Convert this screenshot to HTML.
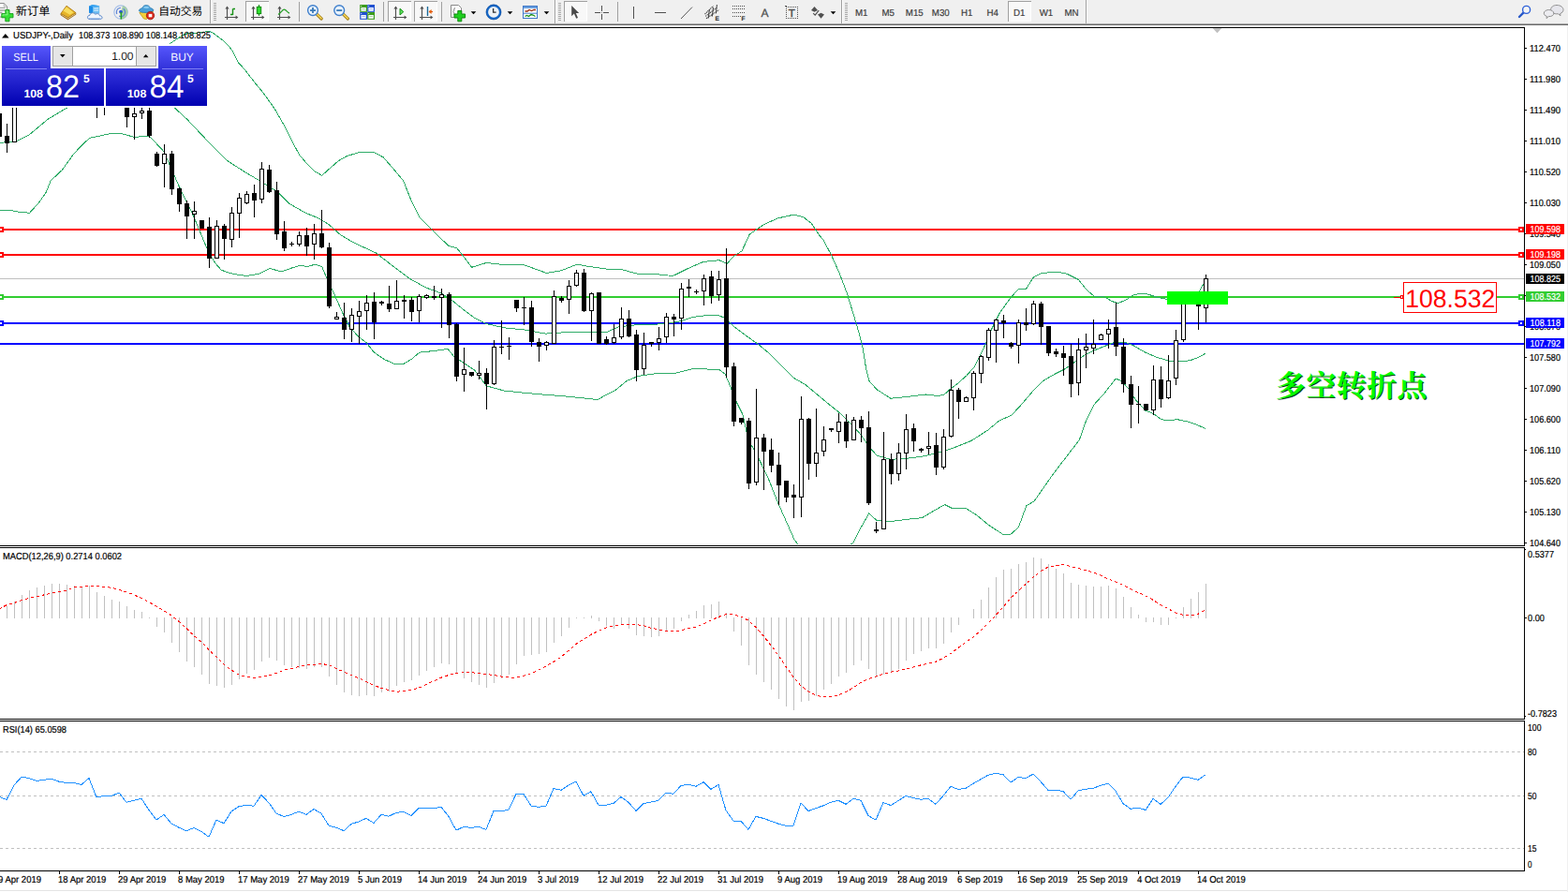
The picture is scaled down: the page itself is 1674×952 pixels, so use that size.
<!DOCTYPE html>
<html><head><meta charset="utf-8"><title>USDJPY Daily</title>
<style>html,body{margin:0;padding:0;background:#fff;}body{width:1674px;height:952px;overflow:hidden;position:relative;font-family:"Liberation Sans", sans-serif;}</style></head>
<body>
<svg width="1674" height="952" viewBox="0 0 1674 952" style="position:absolute;left:0;top:0" shape-rendering="crispEdges" text-rendering="geometricPrecision" font-family='"Liberation Sans", sans-serif'>
<rect x="0" y="0" width="1674" height="952" fill="#fff"/>
<defs><clipPath id="cm"><rect x="0" y="30" width="1627" height="552"/></clipPath><clipPath id="cmacd"><rect x="0" y="585" width="1627" height="182"/></clipPath><clipPath id="crsi"><rect x="0" y="770" width="1627" height="159"/></clipPath><linearGradient id="gbtn" x1="0" y1="0" x2="0" y2="1"><stop offset="0" stop-color="#5656fc"/><stop offset="0.36" stop-color="#3434dc"/><stop offset="0.62" stop-color="#2020cc"/><stop offset="1" stop-color="#0000b0"/></linearGradient></defs>
<g clip-path="url(#cm)">
<rect x="0" y="244" width="1627" height="2" fill="#ff0000"/>
<rect x="0" y="271" width="1627" height="2" fill="#ff0000"/>
<rect x="0" y="297" width="1627" height="1" fill="#c0c0c0"/>
<rect x="0" y="316" width="1627" height="2" fill="#32cd32"/>
<rect x="0" y="344" width="1627" height="2" fill="#0000ff"/>
<rect x="0" y="366" width="1627" height="2" fill="#0000ff"/>
<polyline points="170.0,54.0 181.1,46.8 187.2,42.7 192.3,39.5 198.0,36.2 205.9,35.2 215.9,34.8 221.6,33.4 224.5,33.7 228.8,36.2 236.7,42.0 243.2,48.1 248.2,54.2 251.0,60.3 254.6,67.1 260.4,73.2 265.4,79.6 271.8,88.0 280.7,98.6 293.3,116.2 303.4,133.9 310.9,149.0 319.7,165.4 327.3,174.2 336.1,183.0 343.7,187.3 351.2,180.5 361.3,171.7 370.2,166.6 384.0,162.4 399.1,162.4 409.2,167.9 419.3,179.3 430.7,193.1 438.2,212.0 448.3,232.2 459.6,243.5 471.0,254.9 479.3,262.6 487.7,264.7 496.1,275.2 503.5,285.3 519.2,280.5 538.1,282.6 559.1,282.6 583.3,291.4 599.1,288.9 615.9,282.1 626.4,284.0 649.5,287.4 662.7,287.4 679.5,292.0 700.5,292.7 718.4,294.5 736.3,285.7 751.0,279.4 767.8,277.7 776.2,281.5 782.5,274.2 792.0,267.9 800.3,250.0 815.0,240.0 830.0,233.0 848.0,229.0 858.0,232.0 866.0,238.0 873.9,250.0 879.1,256.3 887.5,272.1 895.9,291.0 904.3,313.0 910.7,334.0 917.0,355.0 921.2,371.9 924.5,392.6 927.7,406.3 936.1,415.7 950.8,425.2 967.6,423.5 988.6,421.0 1000.0,422.3 1007.4,421.7 1014.7,415.0 1023.1,408.7 1031.5,401.3 1039.9,391.9 1050.4,370.9 1058.8,350.9 1067.2,334.1 1077.7,319.4 1087.2,308.5 1095.6,308.2 1103.0,296.3 1111.4,291.6 1128.2,290.0 1138.7,292.1 1151.3,298.4 1159.7,308.9 1168.1,316.2 1178.6,316.6 1187.0,321.5 1193.3,323.6 1201.7,320.4 1210.1,314.8 1218.5,313.1 1225.9,314.1 1235.3,317.3 1245.8,319.4 1262.0,320.0 1275.0,317.0 1280.5,311.2 1283.7,304.7 1287.0,301.5" fill="none" stroke="#2fac68" stroke-width="1"/>
<polyline points="0.0,152.2 16.0,151.5 31.0,144.0 51.5,127.0 72.0,114.7 130.0,100.0 186.0,114.7 200.0,127.6 220.2,149.0 242.9,171.7 260.5,183.0 275.6,191.9 295.8,204.5 308.4,217.1 326.0,227.1 341.2,233.4 351.2,239.7 362.7,250.0 376.3,258.4 401.5,270.0 416.3,281.5 437.3,297.3 454.1,306.7 470.9,313.0 482.4,320.4 494.0,329.8 506.6,339.3 519.2,345.6 538.1,349.8 559.1,351.9 582.3,356.1 597.0,355.1 622.2,354.0 639.0,355.1 648.0,354.4 660.6,348.8 679.5,346.7 698.4,346.2 711.0,345.6 727.8,342.5 740.5,338.3 757.3,336.2 765.7,336.2 774.1,339.3 782.5,347.7 795.1,357.2 809.8,367.7 822.4,378.2 835.0,390.8 847.6,403.4 860.2,410.8 872.8,421.3 885.4,431.8 895.9,440.2 906.7,450.4 919.3,464.1 927.7,476.7 936.1,486.1 950.8,490.3 967.6,489.3 984.4,487.2 999.1,484.0 1016.0,478.8 1037.0,470.4 1054.6,459.1 1067.2,448.6 1079.8,443.4 1090.4,431.8 1103.0,417.1 1113.5,406.6 1126.1,399.2 1136.6,394.0 1147.1,386.6 1157.6,379.3 1168.1,374.0 1178.6,369.8 1189.1,365.6 1201.7,365.6 1210.1,368.8 1222.7,376.1 1235.3,381.4 1247.9,385.2 1260.6,386.0 1271.1,384.5 1279.5,381.4 1287.0,377.2" fill="none" stroke="#2fac68" stroke-width="1"/>
<polyline points="0.0,224.2 11.8,224.6 20.5,226.2 31.5,227.3 41.0,217.0 48.8,206.0 54.3,192.7 66.1,181.7 78.7,164.3 88.2,154.1 95.6,147.4 117.6,142.6 129.4,142.6 143.4,146.3 159.6,145.3 175.0,161.8 191.0,198.5 206.0,229.4 223.0,270.0 230.0,281.0 236.0,288.0 245.0,291.5 255.0,293.5 263.4,294.4 276.0,292.4 283.0,289.0 288.5,286.4 295.0,288.5 301.0,289.9 310.0,286.5 321.0,283.0 328.0,284.7 336.4,282.1 343.8,284.7 349.0,297.3 357.4,315.1 365.8,334.0 373.2,348.8 382.6,359.3 391.0,365.6 399.4,376.1 410.0,383.4 420.5,388.1 431.0,388.3 439.4,383.4 447.8,376.1 462.5,374.6 478.2,372.5 484.5,380.3 494.0,386.6 506.6,395.0 519.2,411.8 538.1,417.0 559.1,419.2 582.3,421.3 601.2,422.7 622.2,424.8 638.0,426.5 649.5,420.2 656.4,417.0 669.0,406.5 681.6,401.3 700.5,398.6 721.5,398.1 740.5,393.5 753.1,393.9 767.8,394.6 774.1,399.2 780.4,413.9 785.9,428.3 793.2,443.0 798.5,468.3 810.0,489.3 820.5,511.3 831.0,537.6 839.4,556.5 847.8,575.4 852.0,581.0" fill="none" stroke="#2fac68" stroke-width="1"/>
<polyline points="908.0,581.0 910.9,579.6 919.3,562.8 927.7,548.1 936.1,555.5 950.8,556.5 967.6,554.4 984.4,552.7 999.1,543.9 1008.6,538.6 1016.0,542.2 1030.7,542.2 1043.3,550.2 1055.9,560.7 1070.6,570.2 1079.0,570.2 1087.4,562.8 1095.8,539.7 1104.0,535.1 1125.0,505.0 1152.3,469.6 1159.7,448.6 1168.1,431.8 1178.6,420.2 1191.2,404.1 1197.5,406.6 1204.9,415.0 1212.2,426.5 1222.7,438.1 1231.1,441.3 1239.5,447.6 1247.9,449.0 1256.4,447.6 1266.9,449.7 1277.4,453.2 1287.0,457.4" fill="none" stroke="#2fac68" stroke-width="1"/>
<g id="candles">
<rect x="-1" y="121" width="1" height="25" fill="#000"/>
<rect x="-3" y="121" width="5" height="25" fill="#000"/>
<rect x="7" y="132" width="1" height="31" fill="#000"/>
<rect x="5" y="145" width="5" height="8" fill="#000"/>
<rect x="15" y="100" width="1" height="52" fill="#000"/>
<rect x="13" y="100" width="5" height="52" fill="#000"/>
<rect x="14" y="101" width="3" height="50" fill="#fff"/>
<rect x="103" y="100" width="1" height="26" fill="#000"/>
<rect x="111" y="100" width="1" height="23" fill="#000"/>
<rect x="135" y="100" width="1" height="36" fill="#000"/>
<rect x="133" y="100" width="5" height="25" fill="#000"/>
<rect x="143" y="100" width="1" height="49" fill="#000"/>
<rect x="141" y="121" width="5" height="4" fill="#000"/>
<rect x="142" y="122" width="3" height="2" fill="#fff"/>
<rect x="151" y="100" width="1" height="27" fill="#000"/>
<rect x="149" y="118" width="5" height="3" fill="#000"/>
<rect x="150" y="119" width="3" height="1" fill="#fff"/>
<rect x="159" y="100" width="1" height="47" fill="#000"/>
<rect x="157" y="118" width="5" height="27" fill="#000"/>
<rect x="167" y="162" width="1" height="16" fill="#000"/>
<rect x="165" y="164" width="5" height="13" fill="#000"/>
<rect x="175" y="154" width="1" height="46" fill="#000"/>
<rect x="173" y="164" width="5" height="11" fill="#000"/>
<rect x="174" y="165" width="3" height="9" fill="#fff"/>
<rect x="183" y="161" width="1" height="47" fill="#000"/>
<rect x="181" y="164" width="5" height="38" fill="#000"/>
<rect x="191" y="200" width="1" height="26" fill="#000"/>
<rect x="189" y="201" width="5" height="17" fill="#000"/>
<rect x="199" y="214" width="1" height="41" fill="#000"/>
<rect x="197" y="217" width="5" height="14" fill="#000"/>
<rect x="207" y="215" width="1" height="40" fill="#000"/>
<rect x="205" y="225" width="5" height="4" fill="#000"/>
<rect x="206" y="226" width="3" height="2" fill="#fff"/>
<rect x="215" y="235" width="1" height="9" fill="#000"/>
<rect x="213" y="235" width="5" height="9" fill="#000"/>
<rect x="223" y="232" width="1" height="54" fill="#000"/>
<rect x="221" y="242" width="5" height="34" fill="#000"/>
<rect x="231" y="235" width="1" height="41" fill="#000"/>
<rect x="229" y="241" width="5" height="35" fill="#000"/>
<rect x="230" y="242" width="3" height="33" fill="#fff"/>
<rect x="239" y="239" width="1" height="38" fill="#000"/>
<rect x="237" y="241" width="5" height="14" fill="#000"/>
<rect x="247" y="221" width="1" height="43" fill="#000"/>
<rect x="245" y="227" width="5" height="29" fill="#000"/>
<rect x="246" y="228" width="3" height="27" fill="#fff"/>
<rect x="255" y="206" width="1" height="48" fill="#000"/>
<rect x="253" y="211" width="5" height="17" fill="#000"/>
<rect x="254" y="212" width="3" height="15" fill="#fff"/>
<rect x="263" y="204" width="1" height="14" fill="#000"/>
<rect x="261" y="207" width="5" height="10" fill="#000"/>
<rect x="262" y="208" width="3" height="8" fill="#fff"/>
<rect x="271" y="197" width="1" height="35" fill="#000"/>
<rect x="269" y="206" width="5" height="8" fill="#000"/>
<rect x="279" y="173" width="1" height="44" fill="#000"/>
<rect x="277" y="180" width="5" height="33" fill="#000"/>
<rect x="278" y="181" width="3" height="31" fill="#fff"/>
<rect x="287" y="176" width="1" height="30" fill="#000"/>
<rect x="285" y="181" width="5" height="24" fill="#000"/>
<rect x="295" y="194" width="1" height="62" fill="#000"/>
<rect x="293" y="203" width="5" height="47" fill="#000"/>
<rect x="303" y="236" width="1" height="32" fill="#000"/>
<rect x="301" y="247" width="5" height="18" fill="#000"/>
<rect x="311" y="258" width="1" height="5" fill="#000"/>
<rect x="309" y="260" width="5" height="1" fill="#000"/>
<rect x="319" y="247" width="1" height="16" fill="#000"/>
<rect x="317" y="251" width="5" height="10" fill="#000"/>
<rect x="318" y="252" width="3" height="8" fill="#fff"/>
<rect x="327" y="243" width="1" height="30" fill="#000"/>
<rect x="325" y="251" width="5" height="12" fill="#000"/>
<rect x="335" y="239" width="1" height="38" fill="#000"/>
<rect x="333" y="249" width="5" height="12" fill="#000"/>
<rect x="334" y="250" width="3" height="10" fill="#fff"/>
<rect x="343" y="224" width="1" height="41" fill="#000"/>
<rect x="341" y="249" width="5" height="15" fill="#000"/>
<rect x="351" y="259" width="1" height="70" fill="#000"/>
<rect x="349" y="264" width="5" height="63" fill="#000"/>
<rect x="359" y="333" width="1" height="8" fill="#000"/>
<rect x="357" y="338" width="5" height="3" fill="#000"/>
<rect x="358" y="339" width="3" height="1" fill="#fff"/>
<rect x="367" y="323" width="1" height="39" fill="#000"/>
<rect x="365" y="339" width="5" height="13" fill="#000"/>
<rect x="375" y="329" width="1" height="36" fill="#000"/>
<rect x="373" y="336" width="5" height="16" fill="#000"/>
<rect x="374" y="337" width="3" height="14" fill="#fff"/>
<rect x="383" y="321" width="1" height="46" fill="#000"/>
<rect x="381" y="332" width="5" height="6" fill="#000"/>
<rect x="382" y="333" width="3" height="4" fill="#fff"/>
<rect x="391" y="315" width="1" height="37" fill="#000"/>
<rect x="389" y="323" width="5" height="9" fill="#000"/>
<rect x="390" y="324" width="3" height="7" fill="#fff"/>
<rect x="399" y="312" width="1" height="50" fill="#000"/>
<rect x="397" y="322" width="5" height="22" fill="#000"/>
<rect x="407" y="321" width="1" height="5" fill="#000"/>
<rect x="405" y="322" width="5" height="2" fill="#000"/>
<rect x="415" y="305" width="1" height="28" fill="#000"/>
<rect x="413" y="324" width="5" height="6" fill="#000"/>
<rect x="423" y="299" width="1" height="31" fill="#000"/>
<rect x="421" y="321" width="5" height="9" fill="#000"/>
<rect x="422" y="322" width="3" height="7" fill="#fff"/>
<rect x="431" y="315" width="1" height="25" fill="#000"/>
<rect x="429" y="320" width="5" height="2" fill="#000"/>
<rect x="439" y="317" width="1" height="26" fill="#000"/>
<rect x="437" y="320" width="5" height="13" fill="#000"/>
<rect x="447" y="314" width="1" height="30" fill="#000"/>
<rect x="445" y="316" width="5" height="16" fill="#000"/>
<rect x="446" y="317" width="3" height="14" fill="#fff"/>
<rect x="455" y="314" width="1" height="5" fill="#000"/>
<rect x="453" y="315" width="5" height="3" fill="#000"/>
<rect x="454" y="316" width="3" height="1" fill="#fff"/>
<rect x="463" y="305" width="1" height="15" fill="#000"/>
<rect x="461" y="316" width="5" height="2" fill="#000"/>
<rect x="471" y="308" width="1" height="42" fill="#000"/>
<rect x="469" y="314" width="5" height="4" fill="#000"/>
<rect x="470" y="315" width="3" height="2" fill="#fff"/>
<rect x="479" y="312" width="1" height="49" fill="#000"/>
<rect x="477" y="314" width="5" height="33" fill="#000"/>
<rect x="487" y="345" width="1" height="62" fill="#000"/>
<rect x="485" y="346" width="5" height="56" fill="#000"/>
<rect x="495" y="371" width="1" height="47" fill="#000"/>
<rect x="493" y="394" width="5" height="6" fill="#000"/>
<rect x="494" y="395" width="3" height="4" fill="#fff"/>
<rect x="503" y="397" width="1" height="5" fill="#000"/>
<rect x="501" y="397" width="5" height="4" fill="#000"/>
<rect x="511" y="385" width="1" height="20" fill="#000"/>
<rect x="509" y="398" width="5" height="3" fill="#000"/>
<rect x="510" y="399" width="3" height="1" fill="#fff"/>
<rect x="519" y="393" width="1" height="44" fill="#000"/>
<rect x="517" y="398" width="5" height="12" fill="#000"/>
<rect x="527" y="363" width="1" height="48" fill="#000"/>
<rect x="525" y="370" width="5" height="40" fill="#000"/>
<rect x="526" y="371" width="3" height="38" fill="#fff"/>
<rect x="535" y="342" width="1" height="36" fill="#000"/>
<rect x="533" y="370" width="5" height="1" fill="#000"/>
<rect x="543" y="360" width="1" height="24" fill="#000"/>
<rect x="541" y="369" width="5" height="1" fill="#000"/>
<rect x="551" y="320" width="1" height="13" fill="#000"/>
<rect x="549" y="320" width="5" height="9" fill="#000"/>
<rect x="559" y="317" width="1" height="30" fill="#000"/>
<rect x="557" y="328" width="5" height="1" fill="#000"/>
<rect x="567" y="321" width="1" height="49" fill="#000"/>
<rect x="565" y="328" width="5" height="37" fill="#000"/>
<rect x="575" y="361" width="1" height="25" fill="#000"/>
<rect x="573" y="365" width="5" height="5" fill="#000"/>
<rect x="583" y="364" width="1" height="10" fill="#000"/>
<rect x="581" y="365" width="5" height="4" fill="#000"/>
<rect x="582" y="366" width="3" height="2" fill="#fff"/>
<rect x="591" y="310" width="1" height="57" fill="#000"/>
<rect x="589" y="316" width="5" height="51" fill="#000"/>
<rect x="590" y="317" width="3" height="49" fill="#fff"/>
<rect x="599" y="316" width="1" height="7" fill="#000"/>
<rect x="597" y="318" width="5" height="3" fill="#000"/>
<rect x="607" y="299" width="1" height="36" fill="#000"/>
<rect x="605" y="305" width="5" height="15" fill="#000"/>
<rect x="606" y="306" width="3" height="13" fill="#fff"/>
<rect x="615" y="288" width="1" height="18" fill="#000"/>
<rect x="613" y="291" width="5" height="14" fill="#000"/>
<rect x="614" y="292" width="3" height="12" fill="#fff"/>
<rect x="623" y="287" width="1" height="46" fill="#000"/>
<rect x="621" y="291" width="5" height="41" fill="#000"/>
<rect x="631" y="312" width="1" height="52" fill="#000"/>
<rect x="629" y="313" width="5" height="19" fill="#000"/>
<rect x="630" y="314" width="3" height="17" fill="#fff"/>
<rect x="639" y="312" width="1" height="55" fill="#000"/>
<rect x="637" y="312" width="5" height="55" fill="#000"/>
<rect x="647" y="359" width="1" height="9" fill="#000"/>
<rect x="645" y="362" width="5" height="5" fill="#000"/>
<rect x="655" y="346" width="1" height="21" fill="#000"/>
<rect x="653" y="360" width="5" height="6" fill="#000"/>
<rect x="654" y="361" width="3" height="4" fill="#fff"/>
<rect x="663" y="328" width="1" height="34" fill="#000"/>
<rect x="661" y="340" width="5" height="20" fill="#000"/>
<rect x="662" y="341" width="3" height="18" fill="#fff"/>
<rect x="671" y="331" width="1" height="29" fill="#000"/>
<rect x="669" y="340" width="5" height="19" fill="#000"/>
<rect x="679" y="352" width="1" height="55" fill="#000"/>
<rect x="677" y="357" width="5" height="38" fill="#000"/>
<rect x="687" y="355" width="1" height="45" fill="#000"/>
<rect x="685" y="368" width="5" height="26" fill="#000"/>
<rect x="686" y="369" width="3" height="24" fill="#fff"/>
<rect x="695" y="365" width="1" height="5" fill="#000"/>
<rect x="693" y="365" width="5" height="2" fill="#000"/>
<rect x="703" y="349" width="1" height="25" fill="#000"/>
<rect x="701" y="361" width="5" height="5" fill="#000"/>
<rect x="702" y="362" width="3" height="3" fill="#fff"/>
<rect x="711" y="334" width="1" height="32" fill="#000"/>
<rect x="709" y="338" width="5" height="22" fill="#000"/>
<rect x="710" y="339" width="3" height="20" fill="#fff"/>
<rect x="719" y="335" width="1" height="24" fill="#000"/>
<rect x="717" y="338" width="5" height="3" fill="#000"/>
<rect x="727" y="302" width="1" height="50" fill="#000"/>
<rect x="725" y="308" width="5" height="32" fill="#000"/>
<rect x="726" y="309" width="3" height="30" fill="#fff"/>
<rect x="735" y="298" width="1" height="19" fill="#000"/>
<rect x="733" y="306" width="5" height="2" fill="#000"/>
<rect x="743" y="309" width="1" height="5" fill="#000"/>
<rect x="741" y="311" width="5" height="1" fill="#000"/>
<rect x="751" y="293" width="1" height="33" fill="#000"/>
<rect x="749" y="297" width="5" height="14" fill="#000"/>
<rect x="750" y="298" width="3" height="12" fill="#fff"/>
<rect x="759" y="289" width="1" height="35" fill="#000"/>
<rect x="757" y="295" width="5" height="21" fill="#000"/>
<rect x="767" y="289" width="1" height="32" fill="#000"/>
<rect x="765" y="298" width="5" height="17" fill="#000"/>
<rect x="766" y="299" width="3" height="15" fill="#fff"/>
<rect x="775" y="265" width="1" height="138" fill="#000"/>
<rect x="773" y="297" width="5" height="95" fill="#000"/>
<rect x="783" y="387" width="1" height="68" fill="#000"/>
<rect x="781" y="391" width="5" height="59" fill="#000"/>
<rect x="791" y="446" width="1" height="7" fill="#000"/>
<rect x="789" y="446" width="5" height="5" fill="#000"/>
<rect x="799" y="446" width="1" height="76" fill="#000"/>
<rect x="797" y="449" width="5" height="67" fill="#000"/>
<rect x="807" y="415" width="1" height="103" fill="#000"/>
<rect x="805" y="467" width="5" height="48" fill="#000"/>
<rect x="806" y="468" width="3" height="46" fill="#fff"/>
<rect x="815" y="463" width="1" height="60" fill="#000"/>
<rect x="813" y="467" width="5" height="15" fill="#000"/>
<rect x="823" y="468" width="1" height="36" fill="#000"/>
<rect x="821" y="480" width="5" height="17" fill="#000"/>
<rect x="831" y="483" width="1" height="56" fill="#000"/>
<rect x="829" y="496" width="5" height="22" fill="#000"/>
<rect x="839" y="513" width="1" height="23" fill="#000"/>
<rect x="837" y="513" width="5" height="18" fill="#000"/>
<rect x="847" y="517" width="1" height="36" fill="#000"/>
<rect x="845" y="528" width="5" height="3" fill="#000"/>
<rect x="855" y="423" width="1" height="129" fill="#000"/>
<rect x="853" y="447" width="5" height="84" fill="#000"/>
<rect x="854" y="448" width="3" height="82" fill="#fff"/>
<rect x="863" y="446" width="1" height="66" fill="#000"/>
<rect x="861" y="447" width="5" height="48" fill="#000"/>
<rect x="871" y="436" width="1" height="73" fill="#000"/>
<rect x="869" y="483" width="5" height="12" fill="#000"/>
<rect x="870" y="484" width="3" height="10" fill="#fff"/>
<rect x="879" y="455" width="1" height="32" fill="#000"/>
<rect x="877" y="469" width="5" height="13" fill="#000"/>
<rect x="878" y="470" width="3" height="11" fill="#fff"/>
<rect x="887" y="457" width="1" height="4" fill="#000"/>
<rect x="885" y="457" width="5" height="2" fill="#000"/>
<rect x="895" y="441" width="1" height="32" fill="#000"/>
<rect x="893" y="450" width="5" height="11" fill="#000"/>
<rect x="894" y="451" width="3" height="9" fill="#fff"/>
<rect x="903" y="442" width="1" height="36" fill="#000"/>
<rect x="901" y="450" width="5" height="21" fill="#000"/>
<rect x="911" y="445" width="1" height="25" fill="#000"/>
<rect x="909" y="448" width="5" height="22" fill="#000"/>
<rect x="910" y="449" width="3" height="20" fill="#fff"/>
<rect x="919" y="444" width="1" height="28" fill="#000"/>
<rect x="917" y="448" width="5" height="9" fill="#000"/>
<rect x="927" y="439" width="1" height="100" fill="#000"/>
<rect x="925" y="456" width="5" height="81" fill="#000"/>
<rect x="935" y="557" width="1" height="12" fill="#000"/>
<rect x="933" y="565" width="5" height="2" fill="#000"/>
<rect x="943" y="461" width="1" height="104" fill="#000"/>
<rect x="941" y="490" width="5" height="75" fill="#000"/>
<rect x="942" y="491" width="3" height="73" fill="#fff"/>
<rect x="951" y="484" width="1" height="33" fill="#000"/>
<rect x="949" y="490" width="5" height="16" fill="#000"/>
<rect x="959" y="473" width="1" height="40" fill="#000"/>
<rect x="957" y="483" width="5" height="23" fill="#000"/>
<rect x="958" y="484" width="3" height="21" fill="#fff"/>
<rect x="967" y="442" width="1" height="59" fill="#000"/>
<rect x="965" y="458" width="5" height="26" fill="#000"/>
<rect x="966" y="459" width="3" height="24" fill="#fff"/>
<rect x="975" y="452" width="1" height="30" fill="#000"/>
<rect x="973" y="457" width="5" height="14" fill="#000"/>
<rect x="983" y="478" width="1" height="5" fill="#000"/>
<rect x="981" y="479" width="5" height="2" fill="#000"/>
<rect x="991" y="461" width="1" height="24" fill="#000"/>
<rect x="989" y="476" width="5" height="3" fill="#000"/>
<rect x="990" y="477" width="3" height="1" fill="#fff"/>
<rect x="999" y="462" width="1" height="45" fill="#000"/>
<rect x="997" y="475" width="5" height="24" fill="#000"/>
<rect x="1007" y="458" width="1" height="43" fill="#000"/>
<rect x="1005" y="466" width="5" height="33" fill="#000"/>
<rect x="1006" y="467" width="3" height="31" fill="#fff"/>
<rect x="1015" y="405" width="1" height="62" fill="#000"/>
<rect x="1013" y="416" width="5" height="50" fill="#000"/>
<rect x="1014" y="417" width="3" height="48" fill="#fff"/>
<rect x="1023" y="414" width="1" height="33" fill="#000"/>
<rect x="1021" y="416" width="5" height="13" fill="#000"/>
<rect x="1031" y="423" width="1" height="6" fill="#000"/>
<rect x="1029" y="424" width="5" height="5" fill="#000"/>
<rect x="1030" y="425" width="3" height="3" fill="#fff"/>
<rect x="1039" y="396" width="1" height="42" fill="#000"/>
<rect x="1037" y="398" width="5" height="27" fill="#000"/>
<rect x="1038" y="399" width="3" height="25" fill="#fff"/>
<rect x="1047" y="379" width="1" height="30" fill="#000"/>
<rect x="1045" y="380" width="5" height="19" fill="#000"/>
<rect x="1046" y="381" width="3" height="17" fill="#fff"/>
<rect x="1055" y="350" width="1" height="35" fill="#000"/>
<rect x="1053" y="352" width="5" height="30" fill="#000"/>
<rect x="1054" y="353" width="3" height="28" fill="#fff"/>
<rect x="1063" y="340" width="1" height="47" fill="#000"/>
<rect x="1061" y="341" width="5" height="12" fill="#000"/>
<rect x="1062" y="342" width="3" height="10" fill="#fff"/>
<rect x="1071" y="336" width="1" height="25" fill="#000"/>
<rect x="1069" y="342" width="5" height="3" fill="#000"/>
<rect x="1079" y="365" width="1" height="7" fill="#000"/>
<rect x="1077" y="366" width="5" height="4" fill="#000"/>
<rect x="1087" y="341" width="1" height="47" fill="#000"/>
<rect x="1085" y="344" width="5" height="25" fill="#000"/>
<rect x="1086" y="345" width="3" height="23" fill="#fff"/>
<rect x="1095" y="329" width="1" height="24" fill="#000"/>
<rect x="1093" y="344" width="5" height="3" fill="#000"/>
<rect x="1103" y="321" width="1" height="26" fill="#000"/>
<rect x="1101" y="324" width="5" height="22" fill="#000"/>
<rect x="1102" y="325" width="3" height="20" fill="#fff"/>
<rect x="1111" y="322" width="1" height="46" fill="#000"/>
<rect x="1109" y="324" width="5" height="25" fill="#000"/>
<rect x="1119" y="348" width="1" height="32" fill="#000"/>
<rect x="1117" y="348" width="5" height="29" fill="#000"/>
<rect x="1127" y="372" width="1" height="9" fill="#000"/>
<rect x="1125" y="375" width="5" height="3" fill="#000"/>
<rect x="1135" y="369" width="1" height="32" fill="#000"/>
<rect x="1133" y="377" width="5" height="5" fill="#000"/>
<rect x="1143" y="367" width="1" height="57" fill="#000"/>
<rect x="1141" y="380" width="5" height="30" fill="#000"/>
<rect x="1151" y="361" width="1" height="61" fill="#000"/>
<rect x="1149" y="373" width="5" height="36" fill="#000"/>
<rect x="1150" y="374" width="3" height="34" fill="#fff"/>
<rect x="1159" y="356" width="1" height="37" fill="#000"/>
<rect x="1157" y="370" width="5" height="4" fill="#000"/>
<rect x="1158" y="371" width="3" height="2" fill="#fff"/>
<rect x="1167" y="341" width="1" height="37" fill="#000"/>
<rect x="1165" y="367" width="5" height="5" fill="#000"/>
<rect x="1166" y="368" width="3" height="3" fill="#fff"/>
<rect x="1175" y="356" width="1" height="7" fill="#000"/>
<rect x="1173" y="357" width="5" height="6" fill="#000"/>
<rect x="1174" y="358" width="3" height="4" fill="#fff"/>
<rect x="1183" y="341" width="1" height="31" fill="#000"/>
<rect x="1181" y="351" width="5" height="6" fill="#000"/>
<rect x="1182" y="352" width="3" height="4" fill="#fff"/>
<rect x="1191" y="323" width="1" height="57" fill="#000"/>
<rect x="1189" y="349" width="5" height="21" fill="#000"/>
<rect x="1199" y="361" width="1" height="58" fill="#000"/>
<rect x="1197" y="370" width="5" height="40" fill="#000"/>
<rect x="1207" y="401" width="1" height="56" fill="#000"/>
<rect x="1205" y="410" width="5" height="22" fill="#000"/>
<rect x="1215" y="412" width="1" height="40" fill="#000"/>
<rect x="1213" y="431" width="5" height="1" fill="#000"/>
<rect x="1223" y="431" width="1" height="7" fill="#000"/>
<rect x="1221" y="431" width="5" height="7" fill="#000"/>
<rect x="1231" y="390" width="1" height="53" fill="#000"/>
<rect x="1229" y="405" width="5" height="33" fill="#000"/>
<rect x="1230" y="406" width="3" height="31" fill="#fff"/>
<rect x="1239" y="391" width="1" height="44" fill="#000"/>
<rect x="1237" y="405" width="5" height="21" fill="#000"/>
<rect x="1247" y="379" width="1" height="47" fill="#000"/>
<rect x="1245" y="406" width="5" height="19" fill="#000"/>
<rect x="1246" y="407" width="3" height="17" fill="#fff"/>
<rect x="1255" y="352" width="1" height="59" fill="#000"/>
<rect x="1253" y="363" width="5" height="41" fill="#000"/>
<rect x="1254" y="364" width="3" height="39" fill="#fff"/>
<rect x="1263" y="318" width="1" height="47" fill="#000"/>
<rect x="1261" y="318" width="5" height="45" fill="#000"/>
<rect x="1262" y="319" width="3" height="43" fill="#fff"/>
<rect x="1279" y="320" width="1" height="32" fill="#000"/>
<rect x="1277" y="325" width="5" height="2" fill="#000"/>
<rect x="1287" y="293" width="1" height="51" fill="#000"/>
<rect x="1285" y="297" width="5" height="32" fill="#000"/>
<rect x="1286" y="298" width="3" height="30" fill="#fff"/>
</g>
<rect x="1246" y="311" width="65" height="14" fill="#00ff00"/>
<rect x="-2" y="242" width="6" height="6" fill="#ff0000"/>
<rect x="0" y="244" width="2" height="2" fill="#fff"/>
<rect x="1621" y="242" width="6" height="6" fill="#ff0000"/>
<rect x="1623" y="244" width="2" height="2" fill="#fff"/>
<rect x="-2" y="269" width="6" height="6" fill="#ff0000"/>
<rect x="0" y="271" width="2" height="2" fill="#fff"/>
<rect x="1621" y="269" width="6" height="6" fill="#ff0000"/>
<rect x="1623" y="271" width="2" height="2" fill="#fff"/>
<rect x="-2" y="314" width="6" height="6" fill="#32cd32"/>
<rect x="0" y="316" width="2" height="2" fill="#fff"/>
<rect x="1621" y="314" width="6" height="6" fill="#32cd32"/>
<rect x="1623" y="316" width="2" height="2" fill="#fff"/>
<rect x="-2" y="342" width="6" height="6" fill="#0000ff"/>
<rect x="0" y="344" width="2" height="2" fill="#fff"/>
<rect x="1621" y="342" width="6" height="6" fill="#0000ff"/>
<rect x="1623" y="344" width="2" height="2" fill="#fff"/>
<rect x="1488" y="317" width="8" height="1" fill="#ff0000"/>
<rect x="1495" y="315" width="3" height="4" fill="#ff0000"/>
<rect x="1496" y="316" width="1" height="2" fill="#fff"/>
<rect x="1498" y="301" width="100" height="33" fill="#ff0000"/>
<rect x="1499" y="302" width="98" height="31" fill="#fff"/>
<text x="1500.3" y="328" font-size="27" fill="#ff0000" text-anchor="start" font-weight="normal" textLength="96" lengthAdjust="spacingAndGlyphs">108.532</text>
</g>
<g shape-rendering="geometricPrecision">
<text x="1362.9" y="423.7" font-size="32" font-weight="bold" fill="#0c3a0c" text-anchor="start" textLength="161.6" lengthAdjust="spacing" style='font-family:"Liberation Serif", "Noto Serif CJK SC", serif'>多空转折点</text>
<text x="1362" y="422.8" font-size="32" font-weight="bold" fill="#00ff00" text-anchor="start" textLength="161.6" lengthAdjust="spacing" style='font-family:"Liberation Serif", "Noto Serif CJK SC", serif'>多空转折点</text>
</g>
<g clip-path="url(#cmacd)">
<rect x="7" y="647" width="1" height="13" fill="#c0c0c0"/>
<rect x="15" y="642" width="1" height="18" fill="#c0c0c0"/>
<rect x="23" y="635" width="1" height="25" fill="#c0c0c0"/>
<rect x="31" y="630" width="1" height="30" fill="#c0c0c0"/>
<rect x="39" y="627" width="1" height="33" fill="#c0c0c0"/>
<rect x="47" y="625" width="1" height="35" fill="#c0c0c0"/>
<rect x="55" y="623" width="1" height="37" fill="#c0c0c0"/>
<rect x="63" y="623" width="1" height="37" fill="#c0c0c0"/>
<rect x="71" y="624" width="1" height="36" fill="#c0c0c0"/>
<rect x="79" y="625" width="1" height="35" fill="#c0c0c0"/>
<rect x="87" y="627" width="1" height="33" fill="#c0c0c0"/>
<rect x="95" y="625" width="1" height="35" fill="#c0c0c0"/>
<rect x="103" y="632" width="1" height="28" fill="#c0c0c0"/>
<rect x="111" y="636" width="1" height="24" fill="#c0c0c0"/>
<rect x="119" y="640" width="1" height="20" fill="#c0c0c0"/>
<rect x="127" y="642" width="1" height="18" fill="#c0c0c0"/>
<rect x="135" y="647" width="1" height="13" fill="#c0c0c0"/>
<rect x="143" y="651" width="1" height="9" fill="#c0c0c0"/>
<rect x="151" y="653" width="1" height="7" fill="#c0c0c0"/>
<rect x="159" y="659" width="1" height="1" fill="#c0c0c0"/>
<rect x="167" y="659" width="1" height="10" fill="#c0c0c0"/>
<rect x="175" y="659" width="1" height="16" fill="#c0c0c0"/>
<rect x="183" y="659" width="1" height="27" fill="#c0c0c0"/>
<rect x="191" y="659" width="1" height="37" fill="#c0c0c0"/>
<rect x="199" y="659" width="1" height="47" fill="#c0c0c0"/>
<rect x="207" y="659" width="1" height="53" fill="#c0c0c0"/>
<rect x="215" y="659" width="1" height="61" fill="#c0c0c0"/>
<rect x="223" y="659" width="1" height="71" fill="#c0c0c0"/>
<rect x="231" y="659" width="1" height="73" fill="#c0c0c0"/>
<rect x="239" y="659" width="1" height="75" fill="#c0c0c0"/>
<rect x="247" y="659" width="1" height="72" fill="#c0c0c0"/>
<rect x="255" y="659" width="1" height="66" fill="#c0c0c0"/>
<rect x="263" y="659" width="1" height="60" fill="#c0c0c0"/>
<rect x="271" y="659" width="1" height="56" fill="#c0c0c0"/>
<rect x="279" y="659" width="1" height="47" fill="#c0c0c0"/>
<rect x="287" y="659" width="1" height="43" fill="#c0c0c0"/>
<rect x="295" y="659" width="1" height="46" fill="#c0c0c0"/>
<rect x="303" y="659" width="1" height="51" fill="#c0c0c0"/>
<rect x="311" y="659" width="1" height="53" fill="#c0c0c0"/>
<rect x="319" y="659" width="1" height="54" fill="#c0c0c0"/>
<rect x="327" y="659" width="1" height="55" fill="#c0c0c0"/>
<rect x="335" y="659" width="1" height="53" fill="#c0c0c0"/>
<rect x="343" y="659" width="1" height="53" fill="#c0c0c0"/>
<rect x="351" y="659" width="1" height="63" fill="#c0c0c0"/>
<rect x="359" y="659" width="1" height="72" fill="#c0c0c0"/>
<rect x="367" y="659" width="1" height="80" fill="#c0c0c0"/>
<rect x="375" y="659" width="1" height="83" fill="#c0c0c0"/>
<rect x="383" y="659" width="1" height="84" fill="#c0c0c0"/>
<rect x="391" y="659" width="1" height="83" fill="#c0c0c0"/>
<rect x="399" y="659" width="1" height="84" fill="#c0c0c0"/>
<rect x="407" y="659" width="1" height="80" fill="#c0c0c0"/>
<rect x="415" y="659" width="1" height="79" fill="#c0c0c0"/>
<rect x="423" y="659" width="1" height="73" fill="#c0c0c0"/>
<rect x="431" y="659" width="1" height="69" fill="#c0c0c0"/>
<rect x="439" y="659" width="1" height="67" fill="#c0c0c0"/>
<rect x="447" y="659" width="1" height="62" fill="#c0c0c0"/>
<rect x="455" y="659" width="1" height="57" fill="#c0c0c0"/>
<rect x="463" y="659" width="1" height="53" fill="#c0c0c0"/>
<rect x="471" y="659" width="1" height="49" fill="#c0c0c0"/>
<rect x="479" y="659" width="1" height="50" fill="#c0c0c0"/>
<rect x="487" y="659" width="1" height="59" fill="#c0c0c0"/>
<rect x="495" y="659" width="1" height="65" fill="#c0c0c0"/>
<rect x="503" y="659" width="1" height="69" fill="#c0c0c0"/>
<rect x="511" y="659" width="1" height="72" fill="#c0c0c0"/>
<rect x="519" y="659" width="1" height="75" fill="#c0c0c0"/>
<rect x="527" y="659" width="1" height="70" fill="#c0c0c0"/>
<rect x="535" y="659" width="1" height="65" fill="#c0c0c0"/>
<rect x="543" y="659" width="1" height="61" fill="#c0c0c0"/>
<rect x="551" y="659" width="1" height="50" fill="#c0c0c0"/>
<rect x="559" y="659" width="1" height="41" fill="#c0c0c0"/>
<rect x="567" y="659" width="1" height="40" fill="#c0c0c0"/>
<rect x="575" y="659" width="1" height="39" fill="#c0c0c0"/>
<rect x="583" y="659" width="1" height="37" fill="#c0c0c0"/>
<rect x="591" y="659" width="1" height="27" fill="#c0c0c0"/>
<rect x="599" y="659" width="1" height="20" fill="#c0c0c0"/>
<rect x="607" y="659" width="1" height="11" fill="#c0c0c0"/>
<rect x="615" y="659" width="1" height="1" fill="#c0c0c0"/>
<rect x="623" y="659" width="1" height="1" fill="#c0c0c0"/>
<rect x="631" y="657" width="1" height="3" fill="#c0c0c0"/>
<rect x="639" y="659" width="1" height="4" fill="#c0c0c0"/>
<rect x="647" y="659" width="1" height="9" fill="#c0c0c0"/>
<rect x="655" y="659" width="1" height="12" fill="#c0c0c0"/>
<rect x="663" y="659" width="1" height="8" fill="#c0c0c0"/>
<rect x="671" y="659" width="1" height="12" fill="#c0c0c0"/>
<rect x="679" y="659" width="1" height="19" fill="#c0c0c0"/>
<rect x="687" y="659" width="1" height="20" fill="#c0c0c0"/>
<rect x="695" y="659" width="1" height="21" fill="#c0c0c0"/>
<rect x="703" y="659" width="1" height="20" fill="#c0c0c0"/>
<rect x="711" y="659" width="1" height="14" fill="#c0c0c0"/>
<rect x="719" y="659" width="1" height="12" fill="#c0c0c0"/>
<rect x="727" y="659" width="1" height="4" fill="#c0c0c0"/>
<rect x="735" y="656" width="1" height="4" fill="#c0c0c0"/>
<rect x="743" y="652" width="1" height="8" fill="#c0c0c0"/>
<rect x="751" y="646" width="1" height="14" fill="#c0c0c0"/>
<rect x="759" y="645" width="1" height="15" fill="#c0c0c0"/>
<rect x="767" y="642" width="1" height="18" fill="#c0c0c0"/>
<rect x="775" y="654" width="1" height="6" fill="#c0c0c0"/>
<rect x="783" y="659" width="1" height="15" fill="#c0c0c0"/>
<rect x="791" y="659" width="1" height="30" fill="#c0c0c0"/>
<rect x="799" y="659" width="1" height="51" fill="#c0c0c0"/>
<rect x="807" y="659" width="1" height="61" fill="#c0c0c0"/>
<rect x="815" y="659" width="1" height="69" fill="#c0c0c0"/>
<rect x="823" y="659" width="1" height="77" fill="#c0c0c0"/>
<rect x="831" y="659" width="1" height="87" fill="#c0c0c0"/>
<rect x="839" y="659" width="1" height="95" fill="#c0c0c0"/>
<rect x="847" y="659" width="1" height="99" fill="#c0c0c0"/>
<rect x="855" y="659" width="1" height="90" fill="#c0c0c0"/>
<rect x="863" y="659" width="1" height="89" fill="#c0c0c0"/>
<rect x="871" y="659" width="1" height="84" fill="#c0c0c0"/>
<rect x="879" y="659" width="1" height="77" fill="#c0c0c0"/>
<rect x="887" y="659" width="1" height="71" fill="#c0c0c0"/>
<rect x="895" y="659" width="1" height="63" fill="#c0c0c0"/>
<rect x="903" y="659" width="1" height="59" fill="#c0c0c0"/>
<rect x="911" y="659" width="1" height="51" fill="#c0c0c0"/>
<rect x="919" y="659" width="1" height="46" fill="#c0c0c0"/>
<rect x="927" y="659" width="1" height="55" fill="#c0c0c0"/>
<rect x="935" y="659" width="1" height="64" fill="#c0c0c0"/>
<rect x="943" y="659" width="1" height="61" fill="#c0c0c0"/>
<rect x="951" y="659" width="1" height="59" fill="#c0c0c0"/>
<rect x="959" y="659" width="1" height="55" fill="#c0c0c0"/>
<rect x="967" y="659" width="1" height="46" fill="#c0c0c0"/>
<rect x="975" y="659" width="1" height="39" fill="#c0c0c0"/>
<rect x="983" y="659" width="1" height="36" fill="#c0c0c0"/>
<rect x="991" y="659" width="1" height="33" fill="#c0c0c0"/>
<rect x="999" y="659" width="1" height="33" fill="#c0c0c0"/>
<rect x="1007" y="659" width="1" height="28" fill="#c0c0c0"/>
<rect x="1015" y="659" width="1" height="16" fill="#c0c0c0"/>
<rect x="1023" y="659" width="1" height="8" fill="#c0c0c0"/>
<rect x="1039" y="650" width="1" height="10" fill="#c0c0c0"/>
<rect x="1047" y="640" width="1" height="20" fill="#c0c0c0"/>
<rect x="1055" y="627" width="1" height="33" fill="#c0c0c0"/>
<rect x="1063" y="616" width="1" height="44" fill="#c0c0c0"/>
<rect x="1071" y="608" width="1" height="52" fill="#c0c0c0"/>
<rect x="1079" y="607" width="1" height="53" fill="#c0c0c0"/>
<rect x="1087" y="602" width="1" height="58" fill="#c0c0c0"/>
<rect x="1095" y="600" width="1" height="60" fill="#c0c0c0"/>
<rect x="1103" y="595" width="1" height="65" fill="#c0c0c0"/>
<rect x="1111" y="596" width="1" height="64" fill="#c0c0c0"/>
<rect x="1119" y="602" width="1" height="58" fill="#c0c0c0"/>
<rect x="1127" y="607" width="1" height="53" fill="#c0c0c0"/>
<rect x="1135" y="612" width="1" height="48" fill="#c0c0c0"/>
<rect x="1143" y="622" width="1" height="38" fill="#c0c0c0"/>
<rect x="1151" y="624" width="1" height="36" fill="#c0c0c0"/>
<rect x="1159" y="625" width="1" height="35" fill="#c0c0c0"/>
<rect x="1167" y="626" width="1" height="34" fill="#c0c0c0"/>
<rect x="1175" y="626" width="1" height="34" fill="#c0c0c0"/>
<rect x="1183" y="625" width="1" height="35" fill="#c0c0c0"/>
<rect x="1191" y="628" width="1" height="32" fill="#c0c0c0"/>
<rect x="1199" y="637" width="1" height="23" fill="#c0c0c0"/>
<rect x="1207" y="648" width="1" height="12" fill="#c0c0c0"/>
<rect x="1215" y="656" width="1" height="4" fill="#c0c0c0"/>
<rect x="1223" y="659" width="1" height="5" fill="#c0c0c0"/>
<rect x="1231" y="659" width="1" height="5" fill="#c0c0c0"/>
<rect x="1239" y="659" width="1" height="8" fill="#c0c0c0"/>
<rect x="1247" y="659" width="1" height="8" fill="#c0c0c0"/>
<rect x="1255" y="659" width="1" height="1" fill="#c0c0c0"/>
<rect x="1263" y="648" width="1" height="12" fill="#c0c0c0"/>
<rect x="1271" y="639" width="1" height="21" fill="#c0c0c0"/>
<rect x="1279" y="632" width="1" height="28" fill="#c0c0c0"/>
<rect x="1287" y="623" width="1" height="37" fill="#c0c0c0"/>
<polyline points="-1.0,650.0 7.0,645.7 15.0,643.5 23.0,640.7 31.0,638.4 39.0,636.7 47.0,634.9 55.0,633.2 63.0,631.7 71.0,630.2 79.0,626.9 87.0,626.1 95.0,625.4 103.0,625.4 111.0,626.4 119.0,627.2 127.0,629.2 135.0,631.9 143.0,634.9 151.0,638.4 159.0,642.5 167.0,647.2 175.0,651.7 183.0,657.0 191.0,663.3 199.0,670.6 207.0,678.6 215.0,685.1 223.0,693.6 231.0,701.2 239.0,709.2 247.0,715.0 255.0,720.2 263.0,722.5 271.0,723.2 279.0,722.7 287.0,721.0 295.0,718.5 303.0,715.0 311.0,713.5 319.0,711.5 327.0,709.9 335.0,709.2 343.0,708.7 351.0,709.4 359.0,713.5 367.0,717.0 375.0,720.5 383.0,723.7 391.0,727.5 399.0,731.3 407.0,734.3 415.0,736.5 423.0,738.3 431.0,737.5 439.0,736.3 447.0,734.3 455.0,730.5 463.0,726.8 471.0,723.2 479.0,720.5 487.0,718.7 495.0,717.7 503.0,717.7 511.0,718.5 519.0,719.5 527.0,720.5 535.0,722.0 543.0,723.0 551.0,723.0 559.0,721.5 567.0,718.7 575.0,715.2 583.0,710.7 591.0,706.4 599.0,701.2 607.0,694.4 615.0,687.4 623.0,682.1 631.0,677.3 639.0,673.3 647.0,670.0 655.0,668.0 663.0,666.5 671.0,666.0 679.0,666.5 687.0,667.8 695.0,670.3 703.0,671.8 711.0,673.1 719.0,673.6 727.0,672.8 735.0,670.8 743.0,669.0 751.0,666.0 759.0,662.0 767.0,658.5 775.0,655.8 783.0,655.8 791.0,658.0 799.0,662.3 807.0,669.3 815.0,678.6 823.0,688.6 831.0,699.4 839.0,711.4 847.0,722.5 855.0,732.0 863.0,737.8 871.0,742.3 879.0,743.6 887.0,743.8 895.0,742.0 903.0,738.5 911.0,734.0 919.0,728.3 927.0,724.7 935.0,722.0 943.0,719.5 951.0,717.2 959.0,716.0 967.0,714.2 975.0,711.9 983.0,709.9 991.0,708.2 999.0,706.2 1007.0,702.4 1015.0,697.6 1023.0,691.4 1031.0,685.4 1039.0,679.8 1047.0,672.8 1055.0,664.8 1063.0,656.8 1071.0,648.0 1079.0,638.2 1087.0,630.9 1095.0,623.4 1103.0,616.1 1111.0,609.8 1119.0,605.1 1127.0,603.6 1135.0,602.3 1143.0,604.6 1151.0,606.6 1159.0,608.6 1167.0,610.8 1175.0,614.1 1183.0,617.9 1191.0,621.1 1199.0,624.4 1207.0,628.4 1215.0,632.4 1223.0,635.8 1231.0,640.3 1239.0,645.6 1247.0,649.7 1255.0,654.0 1263.0,656.3 1271.0,656.8 1279.0,655.2 1287.0,651.2" fill="none" stroke="#ff0000" stroke-width="1" stroke-dasharray="3 3"/>
</g>
<g clip-path="url(#crsi)">
<line x1="0" y1="802.5" x2="1627" y2="802.5" stroke="#c0c0c0" stroke-width="1" stroke-dasharray="3 3"/>
<line x1="0" y1="849.5" x2="1627" y2="849.5" stroke="#c0c0c0" stroke-width="1" stroke-dasharray="3 3"/>
<line x1="0" y1="905.5" x2="1627" y2="905.5" stroke="#c0c0c0" stroke-width="1" stroke-dasharray="3 3"/>
<polyline points="0.0,850.5 7.0,853.6 15.0,838.0 23.0,829.2 31.0,830.5 39.0,833.5 47.0,832.2 55.0,831.2 63.0,834.2 71.0,835.5 79.0,835.5 87.0,837.5 95.0,830.5 103.0,851.0 111.0,849.5 119.0,849.5 127.0,846.0 135.0,856.3 143.0,854.3 151.0,852.3 159.0,864.4 167.0,875.1 175.0,869.4 183.0,878.9 191.0,883.2 199.0,886.9 207.0,883.4 215.0,887.4 223.0,893.2 231.0,875.1 239.0,878.7 247.0,866.1 255.0,860.6 263.0,859.3 271.0,860.3 279.0,848.5 287.0,856.8 295.0,868.1 303.0,871.4 311.0,869.4 319.0,866.1 327.0,869.4 335.0,863.6 343.0,868.1 351.0,881.2 359.0,883.2 367.0,886.7 375.0,879.4 383.0,876.9 391.0,873.4 399.0,878.4 407.0,869.4 415.0,871.2 423.0,867.4 431.0,866.4 439.0,870.4 447.0,862.6 455.0,862.6 463.0,862.6 471.0,861.3 479.0,871.4 487.0,886.2 495.0,882.4 503.0,883.4 511.0,882.4 519.0,885.4 527.0,865.6 535.0,865.6 543.0,864.4 551.0,847.3 559.0,847.3 567.0,860.1 575.0,861.3 583.0,860.1 591.0,841.5 599.0,843.3 607.0,838.0 615.0,834.2 623.0,849.3 631.0,844.8 639.0,859.3 647.0,859.3 655.0,857.3 663.0,850.6 671.0,856.3 679.0,865.4 687.0,857.6 695.0,856.1 703.0,854.3 711.0,846.3 719.0,847.3 727.0,838.5 735.0,837.3 743.0,839.3 751.0,834.7 759.0,842.3 767.0,837.5 775.0,864.9 783.0,876.1 791.0,876.4 799.0,885.4 807.0,871.4 815.0,873.4 823.0,876.3 831.0,879.2 839.0,881.2 847.0,881.2 855.0,856.8 863.0,865.6 871.0,862.6 879.0,859.8 887.0,856.3 895.0,854.3 903.0,858.3 911.0,852.3 919.0,854.3 927.0,870.6 935.0,875.1 943.0,856.6 951.0,859.6 959.0,854.6 967.0,849.5 975.0,851.6 983.0,853.3 991.0,852.3 999.0,858.3 1007.0,849.3 1015.0,839.3 1023.0,842.5 1031.0,841.3 1039.0,836.3 1047.0,831.7 1055.0,827.2 1063.0,825.2 1071.0,826.7 1079.0,835.2 1087.0,829.5 1095.0,830.5 1103.0,826.2 1111.0,834.2 1119.0,843.3 1127.0,843.3 1135.0,844.5 1143.0,853.3 1151.0,843.8 1159.0,842.3 1167.0,841.3 1175.0,838.3 1183.0,836.3 1191.0,844.3 1199.0,857.6 1207.0,863.3 1215.0,862.3 1223.0,864.4 1231.0,852.4 1239.0,858.5 1247.0,851.3 1255.0,839.4 1263.0,829.1 1271.0,830.2 1279.0,832.3 1287.0,826.9" fill="none" stroke="#1e90ff" stroke-width="1"/>
</g>
<rect x="0" y="29" width="1628" height="1" fill="#000"/>
<rect x="1627" y="29" width="1" height="901" fill="#000"/>
<rect x="0" y="582" width="1628" height="1" fill="#000"/>
<rect x="0" y="583" width="1674" height="1" fill="#fff"/>
<rect x="0" y="584" width="1628" height="1" fill="#000"/>
<rect x="0" y="767" width="1628" height="1" fill="#000"/>
<rect x="0" y="768" width="1674" height="1" fill="#fff"/>
<rect x="0" y="769" width="1628" height="1" fill="#000"/>
<rect x="0" y="929" width="1628" height="1" fill="#000"/>
<rect x="1628" y="51" width="2" height="1" fill="#000"/>
<text x="1633" y="55" font-size="10.2" fill="#000" text-anchor="start" font-weight="normal" textLength="33.0" lengthAdjust="spacingAndGlyphs" stroke="#000" stroke-width="0.2">112.470</text>
<rect x="1628" y="84" width="2" height="1" fill="#000"/>
<text x="1633" y="88" font-size="10.2" fill="#000" text-anchor="start" font-weight="normal" textLength="33.0" lengthAdjust="spacingAndGlyphs" stroke="#000" stroke-width="0.2">111.980</text>
<rect x="1628" y="117" width="2" height="1" fill="#000"/>
<text x="1633" y="121" font-size="10.2" fill="#000" text-anchor="start" font-weight="normal" textLength="33.0" lengthAdjust="spacingAndGlyphs" stroke="#000" stroke-width="0.2">111.490</text>
<rect x="1628" y="150" width="2" height="1" fill="#000"/>
<text x="1633" y="154" font-size="10.2" fill="#000" text-anchor="start" font-weight="normal" textLength="33.0" lengthAdjust="spacingAndGlyphs" stroke="#000" stroke-width="0.2">111.010</text>
<rect x="1628" y="183" width="2" height="1" fill="#000"/>
<text x="1633" y="187" font-size="10.2" fill="#000" text-anchor="start" font-weight="normal" textLength="33.0" lengthAdjust="spacingAndGlyphs" stroke="#000" stroke-width="0.2">110.520</text>
<rect x="1628" y="216" width="2" height="1" fill="#000"/>
<text x="1633" y="220" font-size="10.2" fill="#000" text-anchor="start" font-weight="normal" textLength="33.0" lengthAdjust="spacingAndGlyphs" stroke="#000" stroke-width="0.2">110.030</text>
<rect x="1628" y="249" width="2" height="1" fill="#000"/>
<text x="1633" y="253" font-size="10.2" fill="#000" text-anchor="start" font-weight="normal" textLength="33.0" lengthAdjust="spacingAndGlyphs" stroke="#000" stroke-width="0.2">109.540</text>
<rect x="1628" y="282" width="2" height="1" fill="#000"/>
<text x="1633" y="286" font-size="10.2" fill="#000" text-anchor="start" font-weight="normal" textLength="33.0" lengthAdjust="spacingAndGlyphs" stroke="#000" stroke-width="0.2">109.050</text>
<rect x="1628" y="315" width="2" height="1" fill="#000"/>
<text x="1633" y="319" font-size="10.2" fill="#000" text-anchor="start" font-weight="normal" textLength="33.0" lengthAdjust="spacingAndGlyphs" stroke="#000" stroke-width="0.2">108.560</text>
<rect x="1628" y="348" width="2" height="1" fill="#000"/>
<text x="1633" y="352" font-size="10.2" fill="#000" text-anchor="start" font-weight="normal" textLength="33.0" lengthAdjust="spacingAndGlyphs" stroke="#000" stroke-width="0.2">108.070</text>
<rect x="1628" y="381" width="2" height="1" fill="#000"/>
<text x="1633" y="385" font-size="10.2" fill="#000" text-anchor="start" font-weight="normal" textLength="33.0" lengthAdjust="spacingAndGlyphs" stroke="#000" stroke-width="0.2">107.580</text>
<rect x="1628" y="414" width="2" height="1" fill="#000"/>
<text x="1633" y="418" font-size="10.2" fill="#000" text-anchor="start" font-weight="normal" textLength="33.0" lengthAdjust="spacingAndGlyphs" stroke="#000" stroke-width="0.2">107.090</text>
<rect x="1628" y="447" width="2" height="1" fill="#000"/>
<text x="1633" y="451" font-size="10.2" fill="#000" text-anchor="start" font-weight="normal" textLength="33.0" lengthAdjust="spacingAndGlyphs" stroke="#000" stroke-width="0.2">106.600</text>
<rect x="1628" y="480" width="2" height="1" fill="#000"/>
<text x="1633" y="484" font-size="10.2" fill="#000" text-anchor="start" font-weight="normal" textLength="33.0" lengthAdjust="spacingAndGlyphs" stroke="#000" stroke-width="0.2">106.110</text>
<rect x="1628" y="513" width="2" height="1" fill="#000"/>
<text x="1633" y="517" font-size="10.2" fill="#000" text-anchor="start" font-weight="normal" textLength="33.0" lengthAdjust="spacingAndGlyphs" stroke="#000" stroke-width="0.2">105.620</text>
<rect x="1628" y="546" width="2" height="1" fill="#000"/>
<text x="1633" y="550" font-size="10.2" fill="#000" text-anchor="start" font-weight="normal" textLength="33.0" lengthAdjust="spacingAndGlyphs" stroke="#000" stroke-width="0.2">105.130</text>
<rect x="1628" y="579" width="2" height="1" fill="#000"/>
<text x="1633" y="583" font-size="10.2" fill="#000" text-anchor="start" font-weight="normal" textLength="33.0" lengthAdjust="spacingAndGlyphs" stroke="#000" stroke-width="0.2">104.640</text>
<rect x="1629" y="239" width="41" height="11" fill="#ff0000"/>
<text x="1633.5" y="248" font-size="10.2" fill="#fff" text-anchor="start" font-weight="normal" textLength="32.5" lengthAdjust="spacingAndGlyphs" stroke="#fff" stroke-width="0.2">109.598</text>
<rect x="1629" y="266" width="41" height="11" fill="#ff0000"/>
<text x="1633.5" y="275" font-size="10.2" fill="#fff" text-anchor="start" font-weight="normal" textLength="32.5" lengthAdjust="spacingAndGlyphs" stroke="#fff" stroke-width="0.2">109.198</text>
<rect x="1629" y="292" width="41" height="11" fill="#000"/>
<text x="1633.5" y="301" font-size="10.2" fill="#fff" text-anchor="start" font-weight="normal" textLength="32.5" lengthAdjust="spacingAndGlyphs" stroke="#fff" stroke-width="0.2">108.825</text>
<rect x="1629" y="311" width="41" height="11" fill="#32cd32"/>
<text x="1633.5" y="320" font-size="10.2" fill="#fff" text-anchor="start" font-weight="normal" textLength="32.5" lengthAdjust="spacingAndGlyphs" stroke="#fff" stroke-width="0.2">108.532</text>
<rect x="1629" y="339" width="41" height="11" fill="#0000ff"/>
<text x="1633.5" y="348" font-size="10.2" fill="#fff" text-anchor="start" font-weight="normal" textLength="32.5" lengthAdjust="spacingAndGlyphs" stroke="#fff" stroke-width="0.2">108.118</text>
<rect x="1629" y="361" width="41" height="11" fill="#0000ff"/>
<text x="1633.5" y="370" font-size="10.2" fill="#fff" text-anchor="start" font-weight="normal" textLength="32.5" lengthAdjust="spacingAndGlyphs" stroke="#fff" stroke-width="0.2">107.792</text>
<rect x="1628" y="586" width="1" height="1" fill="#000"/>
<rect x="1628" y="659" width="2" height="1" fill="#000"/>
<rect x="1628" y="764" width="1" height="1" fill="#000"/>
<text x="1631" y="595" font-size="10.2" fill="#000" text-anchor="start" font-weight="normal" textLength="28.0" lengthAdjust="spacingAndGlyphs" stroke="#000" stroke-width="0.2">0.5377</text>
<text x="1631" y="663" font-size="10.2" fill="#000" text-anchor="start" font-weight="normal" textLength="18.0" lengthAdjust="spacingAndGlyphs" stroke="#000" stroke-width="0.2">0.00</text>
<text x="1631" y="764.5" font-size="10.2" fill="#000" text-anchor="start" font-weight="normal" textLength="31.0" lengthAdjust="spacingAndGlyphs" stroke="#000" stroke-width="0.2">-0.7823</text>
<text x="1631" y="780" font-size="10.2" fill="#000" text-anchor="start" font-weight="normal" textLength="14.5" lengthAdjust="spacingAndGlyphs" stroke="#000" stroke-width="0.2">100</text>
<text x="1631" y="806" font-size="10.2" fill="#000" text-anchor="start" font-weight="normal" textLength="9.5" lengthAdjust="spacingAndGlyphs" stroke="#000" stroke-width="0.2">80</text>
<text x="1631" y="853" font-size="10.2" fill="#000" text-anchor="start" font-weight="normal" textLength="9.5" lengthAdjust="spacingAndGlyphs" stroke="#000" stroke-width="0.2">50</text>
<text x="1631" y="909" font-size="10.2" fill="#000" text-anchor="start" font-weight="normal" textLength="9.5" lengthAdjust="spacingAndGlyphs" stroke="#000" stroke-width="0.2">15</text>
<text x="1631" y="926" font-size="10.2" fill="#000" text-anchor="start" font-weight="normal" textLength="4.5" lengthAdjust="spacingAndGlyphs" stroke="#000" stroke-width="0.2">0</text>
<rect x="-1" y="930" width="1" height="3" fill="#000"/>
<text x="-2" y="942" font-size="10.2" fill="#000" text-anchor="start" font-weight="normal" textLength="46.0" lengthAdjust="spacingAndGlyphs" stroke="#000" stroke-width="0.2">9 Apr 2019</text>
<rect x="63" y="930" width="1" height="3" fill="#000"/>
<text x="62" y="942" font-size="10.2" fill="#000" text-anchor="start" font-weight="normal" textLength="51.2" lengthAdjust="spacingAndGlyphs" stroke="#000" stroke-width="0.2">18 Apr 2019</text>
<rect x="127" y="930" width="1" height="3" fill="#000"/>
<text x="126" y="942" font-size="10.2" fill="#000" text-anchor="start" font-weight="normal" textLength="51.2" lengthAdjust="spacingAndGlyphs" stroke="#000" stroke-width="0.2">29 Apr 2019</text>
<rect x="191" y="930" width="1" height="3" fill="#000"/>
<text x="190" y="942" font-size="10.2" fill="#000" text-anchor="start" font-weight="normal" textLength="49.6" lengthAdjust="spacingAndGlyphs" stroke="#000" stroke-width="0.2">8 May 2019</text>
<rect x="255" y="930" width="1" height="3" fill="#000"/>
<text x="254" y="942" font-size="10.2" fill="#000" text-anchor="start" font-weight="normal" textLength="54.9" lengthAdjust="spacingAndGlyphs" stroke="#000" stroke-width="0.2">17 May 2019</text>
<rect x="319" y="930" width="1" height="3" fill="#000"/>
<text x="318" y="942" font-size="10.2" fill="#000" text-anchor="start" font-weight="normal" textLength="54.9" lengthAdjust="spacingAndGlyphs" stroke="#000" stroke-width="0.2">27 May 2019</text>
<rect x="383" y="930" width="1" height="3" fill="#000"/>
<text x="382" y="942" font-size="10.2" fill="#000" text-anchor="start" font-weight="normal" textLength="47.0" lengthAdjust="spacingAndGlyphs" stroke="#000" stroke-width="0.2">5 Jun 2019</text>
<rect x="447" y="930" width="1" height="3" fill="#000"/>
<text x="446" y="942" font-size="10.2" fill="#000" text-anchor="start" font-weight="normal" textLength="52.3" lengthAdjust="spacingAndGlyphs" stroke="#000" stroke-width="0.2">14 Jun 2019</text>
<rect x="511" y="930" width="1" height="3" fill="#000"/>
<text x="510" y="942" font-size="10.2" fill="#000" text-anchor="start" font-weight="normal" textLength="52.3" lengthAdjust="spacingAndGlyphs" stroke="#000" stroke-width="0.2">24 Jun 2019</text>
<rect x="575" y="930" width="1" height="3" fill="#000"/>
<text x="574" y="942" font-size="10.2" fill="#000" text-anchor="start" font-weight="normal" textLength="43.8" lengthAdjust="spacingAndGlyphs" stroke="#000" stroke-width="0.2">3 Jul 2019</text>
<rect x="639" y="930" width="1" height="3" fill="#000"/>
<text x="638" y="942" font-size="10.2" fill="#000" text-anchor="start" font-weight="normal" textLength="49.1" lengthAdjust="spacingAndGlyphs" stroke="#000" stroke-width="0.2">12 Jul 2019</text>
<rect x="703" y="930" width="1" height="3" fill="#000"/>
<text x="702" y="942" font-size="10.2" fill="#000" text-anchor="start" font-weight="normal" textLength="49.1" lengthAdjust="spacingAndGlyphs" stroke="#000" stroke-width="0.2">22 Jul 2019</text>
<rect x="767" y="930" width="1" height="3" fill="#000"/>
<text x="766" y="942" font-size="10.2" fill="#000" text-anchor="start" font-weight="normal" textLength="49.1" lengthAdjust="spacingAndGlyphs" stroke="#000" stroke-width="0.2">31 Jul 2019</text>
<rect x="831" y="930" width="1" height="3" fill="#000"/>
<text x="830" y="942" font-size="10.2" fill="#000" text-anchor="start" font-weight="normal" textLength="48.1" lengthAdjust="spacingAndGlyphs" stroke="#000" stroke-width="0.2">9 Aug 2019</text>
<rect x="895" y="930" width="1" height="3" fill="#000"/>
<text x="894" y="942" font-size="10.2" fill="#000" text-anchor="start" font-weight="normal" textLength="53.4" lengthAdjust="spacingAndGlyphs" stroke="#000" stroke-width="0.2">19 Aug 2019</text>
<rect x="959" y="930" width="1" height="3" fill="#000"/>
<text x="958" y="942" font-size="10.2" fill="#000" text-anchor="start" font-weight="normal" textLength="53.4" lengthAdjust="spacingAndGlyphs" stroke="#000" stroke-width="0.2">28 Aug 2019</text>
<rect x="1023" y="930" width="1" height="3" fill="#000"/>
<text x="1022" y="942" font-size="10.2" fill="#000" text-anchor="start" font-weight="normal" textLength="48.6" lengthAdjust="spacingAndGlyphs" stroke="#000" stroke-width="0.2">6 Sep 2019</text>
<rect x="1087" y="930" width="1" height="3" fill="#000"/>
<text x="1086" y="942" font-size="10.2" fill="#000" text-anchor="start" font-weight="normal" textLength="53.9" lengthAdjust="spacingAndGlyphs" stroke="#000" stroke-width="0.2">16 Sep 2019</text>
<rect x="1151" y="930" width="1" height="3" fill="#000"/>
<text x="1150" y="942" font-size="10.2" fill="#000" text-anchor="start" font-weight="normal" textLength="53.9" lengthAdjust="spacingAndGlyphs" stroke="#000" stroke-width="0.2">25 Sep 2019</text>
<rect x="1215" y="930" width="1" height="3" fill="#000"/>
<text x="1214" y="942" font-size="10.2" fill="#000" text-anchor="start" font-weight="normal" textLength="46.5" lengthAdjust="spacingAndGlyphs" stroke="#000" stroke-width="0.2">4 Oct 2019</text>
<rect x="1279" y="930" width="1" height="3" fill="#000"/>
<text x="1278" y="942" font-size="10.2" fill="#000" text-anchor="start" font-weight="normal" textLength="51.8" lengthAdjust="spacingAndGlyphs" stroke="#000" stroke-width="0.2">14 Oct 2019</text>
<text x="3" y="596.5" font-size="10.2" fill="#000" text-anchor="start" font-weight="normal" textLength="127" lengthAdjust="spacingAndGlyphs" stroke="#000" stroke-width="0.2">MACD(12,26,9) 0.2714 0.0602</text>
<text x="3" y="781.6" font-size="10.2" fill="#000" text-anchor="start" font-weight="normal" textLength="68" lengthAdjust="spacingAndGlyphs" stroke="#000" stroke-width="0.2">RSI(14) 65.0598</text>
<path d="M1294.6 30 L1304.4 30 L1299.5 35.3 Z" fill="#c0c0c0" shape-rendering="geometricPrecision"/>
<rect x="0" y="47" width="224" height="68" fill="#fff"/>
<path d="M2 40.4 L9.6 40.4 L5.8 36 Z" fill="#000" shape-rendering="geometricPrecision"/>
<text x="14" y="41" font-size="10.2" fill="#000" text-anchor="start" font-weight="normal" textLength="64" lengthAdjust="spacingAndGlyphs" stroke="#000" stroke-width="0.2">USDJPY-,Daily</text>
<text x="84" y="41" font-size="10.2" fill="#000" text-anchor="start" font-weight="normal" textLength="141" lengthAdjust="spacingAndGlyphs" stroke="#000" stroke-width="0.2">108.373 108.890 108.148 108.825</text>
<path d="M2 49 H54 V73 H111 V113 H2 Z" fill="url(#gbtn)"/>
<path d="M221 49 H169 V73 H113 V113 H221 Z" fill="url(#gbtn)"/>
<rect x="6" y="73" width="44" height="1" fill="#8080f4"/>
<rect x="173" y="73" width="44" height="1" fill="#8080f4"/>
<text x="27.5" y="65" font-size="12" fill="#f4f4ff" text-anchor="middle" font-weight="normal" textLength="26.5" lengthAdjust="spacingAndGlyphs">SELL</text>
<text x="194.5" y="65" font-size="12" fill="#f4f4ff" text-anchor="middle" font-weight="normal">BUY</text>
<text x="25.4" y="103.6" font-size="12" fill="#fff" text-anchor="start" font-weight="bold" textLength="20.6" lengthAdjust="spacingAndGlyphs">108</text>
<text x="135.7" y="103.6" font-size="12" fill="#fff" text-anchor="start" font-weight="bold" textLength="20.6" lengthAdjust="spacingAndGlyphs">108</text>
<text x="49" y="103.9" font-size="34" fill="#fff" text-anchor="start" font-weight="normal" textLength="36" lengthAdjust="spacingAndGlyphs">82</text>
<text x="159.5" y="103.9" font-size="34" fill="#fff" text-anchor="start" font-weight="normal" textLength="37" lengthAdjust="spacingAndGlyphs">84</text>
<text x="89" y="88" font-size="12" fill="#fff" text-anchor="start" font-weight="bold">5</text>
<text x="200" y="88" font-size="12" fill="#fff" text-anchor="start" font-weight="bold">5</text>
<rect x="56" y="49" width="111" height="22" fill="#a0a0a0"/>
<rect x="57" y="50" width="109" height="20" fill="#fff"/>
<rect x="57" y="50" width="20" height="20" fill="#e6e6e6"/>
<rect x="77" y="50" width="1" height="20" fill="#a0a0a0"/>
<rect x="146" y="50" width="20" height="20" fill="#e6e6e6"/>
<rect x="145" y="50" width="1" height="20" fill="#a0a0a0"/>
<path d="M64 58 H69.6 L66.8 61.2 Z" fill="#000" shape-rendering="geometricPrecision"/>
<path d="M152.9 61.2 H158.5 L155.7 58 Z" fill="#000" shape-rendering="geometricPrecision"/>
<text x="142.5" y="64" font-size="12" fill="#1a1a1a" text-anchor="end" font-weight="normal">1.00</text>
<rect x="0" y="0" width="1674" height="25" fill="#f0f0f0"/>
<rect x="0" y="25" width="1674" height="1" fill="#a8a8a8"/>
<rect x="0" y="26" width="1674" height="1" fill="#6a6a6a"/>
<rect x="1673" y="27" width="1" height="925" fill="#f0f0f0"/>
<rect x="0" y="950" width="1673" height="1" fill="#e4e4e4"/>
<g shape-rendering="geometricPrecision">
<path d="M-1 3.5 H4.2 L7.6 6.9 V18 H-1 Z" fill="#fdfdfd" stroke="#8c8c8c" stroke-width="1"/>
<path d="M4.2 3.5 V6.9 H7.6" fill="none" stroke="#a0a0a0" stroke-width="0.8"/>
<path d="M0 8.4 H5.6 M0 11 H5.6 M0 13.5 H2.5" stroke="#a4a4a4" stroke-width="1.3"/>
<path d="M5.8 10.6 H10 V14.6 H14 V18.8 H10 V22.8 H5.8 V18.8 H1.8 V14.6 H5.8 Z" fill="#35e035" stroke="#14991a" stroke-width="0.9"/>
<path d="M6.8 11.8 H8 V15.8 H3 V16.8" fill="none" stroke="#b8ffb8" stroke-width="0.8" opacity="0.8"/>
</g>
<text x="16.8" y="15.6" font-size="12.2" fill="#000" text-anchor="start" textLength="36.6" lengthAdjust="spacing" style='font-family:"Liberation Sans", "Noto Sans CJK SC", sans-serif'>新订单</text>
<g shape-rendering="geometricPrecision">
<path d="M65 14.4 L72.7 18.8 L80.9 13.6 L81 15.3 L72.5 20.9 L64.9 16 Z" fill="#b47812" stroke="#8a5a0c" stroke-width="0.6"/>
<path d="M65.6 15.2 L72.7 19.6 L80.5 14.5" fill="none" stroke="#f6e6b4" stroke-width="0.9"/>
<path d="M71 6.2 L80.9 13.6 L72.7 18.8 L65 14.4 Z" fill="#e6b428" stroke="#a87410" stroke-width="0.8"/>
<path d="M71 7.4 L78.6 13.2 L74.6 15.8 L67.4 11.4 Z" fill="#f8dc5c"/>
</g>
<g shape-rendering="geometricPrecision">
<path d="M95 6.6 L99 5 L99 15 L95 13.8 Z" fill="#1c8ce6"/>
<path d="M99 5 L106.2 6.2 L106.2 14.5 L99 15 Z" fill="#6cbcf2"/>
<path d="M95 6.6 L99 5 L106.2 6.2 L102 7.4 Z" fill="#3aa4f0"/>
<path d="M100.2 9 H105.2 M100.2 11.2 H105.2" stroke="#e8f6ff" stroke-width="1"/>
<path d="M96.2 20.6 C92.7 20.6 92.5 16.6 96 16.2 C96.2 13.4 100.6 12.8 101.8 15.4 C103.4 13.8 106.6 14.8 106.4 16.8 C109.8 16.6 110 20.6 106.6 20.6 Z" fill="#f0f5fc" stroke="#5a86c8" stroke-width="1"/>
<path d="M95 19.6 H107.6" stroke="#a8c4ec" stroke-width="1.2"/>
</g>
<g shape-rendering="geometricPrecision" fill="none">
<circle cx="129" cy="13" r="7.2" stroke="#a8c0e8" stroke-width="1.2"/>
<path d="M129 13 L129 20.4 A7.4 7.4 0 0 0 136.4 13 A7.4 7.4 0 0 0 131 5.9 Z" fill="#9ccb9c" stroke="none" opacity="0.85"/>
<circle cx="129" cy="13" r="4.6" stroke="#5f86d6" stroke-width="1.3" stroke-dasharray="9 3"/>
<circle cx="129" cy="12.6" r="1.9" fill="#2a5ad0" stroke="none"/>
<path d="M129.3 13 V20.5" stroke="#22a022" stroke-width="1.6"/>
</g>
<g shape-rendering="geometricPrecision">
<path d="M148.8 13.5 L163.5 12.5 L156.5 20.5 L153.5 20 Z" fill="#f2cf3a" stroke="#c09a18" stroke-width="0.8"/>
<path d="M148.3 11.5 C149 8.5 152 9.5 152.5 7.5 C153.3 5 159 5 159.8 7.5 C160.3 9.3 163.5 8.6 164 11 C162 14 150.5 14.3 148.3 11.5 Z" fill="#4aa0d8" stroke="#2878b0" stroke-width="0.8"/>
<path d="M152.8 8 C154 6.2 158.5 6.2 159.5 8 C158 9.3 154.5 9.3 152.8 8 Z" fill="#8cccf0"/>
<circle cx="160.5" cy="16.6" r="4.2" fill="#d8281c" stroke="#a01810" stroke-width="0.8"/>
<rect x="158.7" y="14.9" width="3.6" height="3.4" fill="#fff"/>
</g>
<text x="169.2" y="15.8" font-size="11.8" fill="#000" text-anchor="start" textLength="47.2" lengthAdjust="spacing" style='font-family:"Liberation Sans", "Noto Sans CJK SC", sans-serif'>自动交易</text>
<rect x="224" y="0" width="1" height="25" fill="#a0a0a0"/>
<rect x="225" y="0" width="1" height="25" fill="#fff"/>
<rect x="228" y="3" width="3" height="1" fill="#a8a8a8"/>
<rect x="228" y="5" width="3" height="1" fill="#a8a8a8"/>
<rect x="228" y="7" width="3" height="1" fill="#a8a8a8"/>
<rect x="228" y="9" width="3" height="1" fill="#a8a8a8"/>
<rect x="228" y="11" width="3" height="1" fill="#a8a8a8"/>
<rect x="228" y="13" width="3" height="1" fill="#a8a8a8"/>
<rect x="228" y="15" width="3" height="1" fill="#a8a8a8"/>
<rect x="228" y="17" width="3" height="1" fill="#a8a8a8"/>
<rect x="228" y="19" width="3" height="1" fill="#a8a8a8"/>
<rect x="228" y="21" width="3" height="1" fill="#a8a8a8"/>
<g shape-rendering="geometricPrecision" stroke="#505050" stroke-width="1.15" fill="none"><path d="M242.5 21 V7.5 M240 18.5 H253"/></g>
<path d="M240.4 9.6 L242.5 6.6 L244.6 9.6 Z M251.6 16.4 L254.4 18.5 L251.6 20.6 Z" fill="#505050" shape-rendering="geometricPrecision"/>
<path d="M248.5 9.5 V16 M248.5 9.5 H251 M246 15.5 H248.5" stroke="#169016" stroke-width="1.4" fill="none" shape-rendering="geometricPrecision"/>
<rect x="262" y="1" width="25" height="22" fill="#f8f8f8"/>
<rect x="262" y="1" width="25" height="1" fill="#a0a0a0"/>
<rect x="262" y="1" width="1" height="22" fill="#a0a0a0"/>
<rect x="286" y="2" width="1" height="21" fill="#fff"/>
<rect x="263" y="22" width="24" height="1" fill="#fff"/>
<g shape-rendering="geometricPrecision" stroke="#505050" stroke-width="1.15" fill="none"><path d="M270.5 21 V7.5 M268 18.5 H281"/></g>
<path d="M268.4 9.6 L270.5 6.6 L272.6 9.6 Z M279.6 16.4 L282.4 18.5 L279.6 20.6 Z" fill="#505050" shape-rendering="geometricPrecision"/>
<g shape-rendering="geometricPrecision"><path d="M276.5 5.2 V16.8" stroke="#0c8a0c" stroke-width="1.3"/><rect x="274.3" y="7.4" width="4.4" height="7.2" fill="#2fe02f" stroke="#0c8a0c" stroke-width="1"/></g>
<g shape-rendering="geometricPrecision" stroke="#505050" stroke-width="1.15" fill="none"><path d="M298.5 21 V7.5 M296 18.5 H309"/></g>
<path d="M296.4 9.6 L298.5 6.6 L300.6 9.6 Z M307.6 16.4 L310.4 18.5 L307.6 20.6 Z" fill="#505050" shape-rendering="geometricPrecision"/>
<path d="M297 15.5 C300 14 301.5 10 303.5 10.2 C305.5 10.5 307 13.5 309 14" stroke="#2aa02a" stroke-width="1.3" fill="none" shape-rendering="geometricPrecision"/>
<rect x="319" y="2" width="1" height="21" fill="#a0a0a0"/>
<g shape-rendering="geometricPrecision">
<path d="M338.2 15.2 L343.2 20" stroke="#9a7614" stroke-width="3.2" stroke-linecap="round"/>
<path d="M338.4 15.2 L343 19.7" stroke="#f0cf50" stroke-width="1.8" stroke-linecap="round"/>
<circle cx="334" cy="11.1" r="5.4" fill="#e8f2fc" stroke="#3f7fcc" stroke-width="1.4"/>
<path d="M331 11.1 H337" stroke="#3a7ab8" stroke-width="1.8"/>
<path d="M334 8.1 V14.1" stroke="#3a7ab8" stroke-width="1.8"/>
</g>
<g shape-rendering="geometricPrecision">
<path d="M366.4 15.2 L371.4 20" stroke="#9a7614" stroke-width="3.2" stroke-linecap="round"/>
<path d="M366.59999999999997 15.2 L371.2 19.7" stroke="#f0cf50" stroke-width="1.8" stroke-linecap="round"/>
<circle cx="362.2" cy="11.1" r="5.4" fill="#e8f2fc" stroke="#3f7fcc" stroke-width="1.4"/>
<path d="M359.2 11.1 H365.2" stroke="#3a7ab8" stroke-width="1.8"/>
</g>
<g shape-rendering="geometricPrecision"><rect x="384.2" y="5" width="7.8" height="7.8" fill="#3c9c1c"/><rect x="385.4" y="8" width="5.4" height="3.8" fill="#f4f8ff"/><rect x="386.4" y="9" width="3.4" height="1" fill="#a8dc98"/><rect x="385.2" y="6" width="1" height="1" fill="#fff" opacity="0.8"/></g>
<g shape-rendering="geometricPrecision"><rect x="392.2" y="5" width="7.8" height="7.8" fill="#2050d0"/><rect x="393.4" y="8" width="5.4" height="3.8" fill="#f4f8ff"/><rect x="394.4" y="9" width="3.4" height="1" fill="#a8b8f0"/><rect x="393.2" y="6" width="1" height="1" fill="#fff" opacity="0.8"/></g>
<g shape-rendering="geometricPrecision"><rect x="384.2" y="13" width="7.8" height="7.8" fill="#2050d0"/><rect x="385.4" y="16" width="5.4" height="3.8" fill="#f4f8ff"/><rect x="386.4" y="17" width="3.4" height="1" fill="#a8b8f0"/><rect x="385.2" y="14" width="1" height="1" fill="#fff" opacity="0.8"/></g>
<g shape-rendering="geometricPrecision"><rect x="392.2" y="13" width="7.8" height="7.8" fill="#3c9c1c"/><rect x="393.4" y="16" width="5.4" height="3.8" fill="#f4f8ff"/><rect x="394.4" y="17" width="3.4" height="1" fill="#a8dc98"/><rect x="393.2" y="14" width="1" height="1" fill="#fff" opacity="0.8"/></g>
<rect x="409" y="2" width="1" height="21" fill="#a0a0a0"/>
<rect x="414" y="1" width="25" height="22" fill="#f8f8f8"/>
<rect x="414" y="1" width="25" height="1" fill="#a0a0a0"/>
<rect x="414" y="1" width="1" height="22" fill="#a0a0a0"/>
<rect x="438" y="2" width="1" height="21" fill="#fff"/>
<rect x="415" y="22" width="24" height="1" fill="#fff"/>
<g shape-rendering="geometricPrecision" stroke="#505050" stroke-width="1.15" fill="none"><path d="M422.5 21 V7.5 M420 18.5 H433"/></g>
<path d="M420.4 9.6 L422.5 6.6 L424.6 9.6 Z M431.6 16.4 L434.4 18.5 L431.6 20.6 Z" fill="#505050" shape-rendering="geometricPrecision"/>
<path d="M427 9.2 L430.8 12.6 L427 16 Z" fill="#5fe05f" stroke="#169016" stroke-width="1" shape-rendering="geometricPrecision"/>
<rect x="442" y="1" width="25" height="22" fill="#f8f8f8"/>
<rect x="442" y="1" width="25" height="1" fill="#a0a0a0"/>
<rect x="442" y="1" width="1" height="22" fill="#a0a0a0"/>
<rect x="466" y="2" width="1" height="21" fill="#fff"/>
<rect x="443" y="22" width="24" height="1" fill="#fff"/>
<g shape-rendering="geometricPrecision" stroke="#505050" stroke-width="1.15" fill="none"><path d="M450.5 21 V7.5 M448 18.5 H461"/></g>
<path d="M448.4 9.6 L450.5 6.6 L452.6 9.6 Z M459.6 16.4 L462.4 18.5 L459.6 20.6 Z" fill="#505050" shape-rendering="geometricPrecision"/>
<g shape-rendering="geometricPrecision"><path d="M456.5 7 V17" stroke="#1a6a9a" stroke-width="1.4"/><path d="M462 12.5 H458" stroke="#d85010" stroke-width="1.3"/><path d="M457.6 12.5 L460.6 10 V15 Z" fill="#e8600c"/></g>
<rect x="471" y="2" width="1" height="21" fill="#a0a0a0"/>
<g shape-rendering="geometricPrecision">
<path d="M481.5 5.5 H489.5 L492.5 8.5 V18.5 H481.5 Z" fill="#fbfbfb" stroke="#8a8a8a" stroke-width="1"/>
<path d="M486 8.5 C484 8.5 485.5 12 483.8 12.5 C485.5 13 484 16.5 486 16.5" fill="none" stroke="#707070" stroke-width="0.9"/>
<path d="M488.8 11.5 H492.8 V15 H496.6 V19 H492.8 V22.8 H488.8 V19 H485 V15 H488.8 Z" fill="#1fd01f" stroke="#0f8a0f" stroke-width="1"/>
</g>
<path d="M502.7 12.2 H508.3 L505.5 15.2 Z" fill="#000" shape-rendering="geometricPrecision"/>
<g shape-rendering="geometricPrecision">
<circle cx="527" cy="12.9" r="7" fill="#eef2f6" stroke="#1668c8" stroke-width="2.2"/>
<circle cx="527" cy="12.9" r="8" fill="none" stroke="#0c4898" stroke-width="0.6"/>
<path d="M526.6 9 V13.2 H529.6" fill="none" stroke="#303030" stroke-width="1.3"/>
</g>
<path d="M541.7 12.2 H547.3 L544.5 15.2 Z" fill="#000" shape-rendering="geometricPrecision"/>
<g shape-rendering="geometricPrecision">
<rect x="558.5" y="6.5" width="15" height="13" fill="#fff" stroke="#3f78c8" stroke-width="1"/>
<rect x="559" y="7" width="14" height="2" fill="#6aa0e0"/>
<path d="M559 14.2 H573" stroke="#3f78c8" stroke-width="1"/>
<path d="M560.5 12 L563 12 L565 10.5 L567.5 11.5 L570 10.5 L572 10.5" fill="none" stroke="#a03010" stroke-width="1.3"/>
<path d="M560.5 17.5 L562.5 16.5 L564.5 17.5 L567 15.5 L569 16 L571.5 17.5" fill="none" stroke="#169016" stroke-width="1.3"/>
</g>
<path d="M580.7 12.2 H586.3 L583.5 15.2 Z" fill="#000" shape-rendering="geometricPrecision"/>
<rect x="592" y="0" width="1" height="25" fill="#a0a0a0"/>
<rect x="593" y="0" width="1" height="25" fill="#fff"/>
<rect x="596" y="3" width="3" height="1" fill="#a8a8a8"/>
<rect x="596" y="5" width="3" height="1" fill="#a8a8a8"/>
<rect x="596" y="7" width="3" height="1" fill="#a8a8a8"/>
<rect x="596" y="9" width="3" height="1" fill="#a8a8a8"/>
<rect x="596" y="11" width="3" height="1" fill="#a8a8a8"/>
<rect x="596" y="13" width="3" height="1" fill="#a8a8a8"/>
<rect x="596" y="15" width="3" height="1" fill="#a8a8a8"/>
<rect x="596" y="17" width="3" height="1" fill="#a8a8a8"/>
<rect x="596" y="19" width="3" height="1" fill="#a8a8a8"/>
<rect x="596" y="21" width="3" height="1" fill="#a8a8a8"/>
<rect x="602" y="1" width="25" height="22" fill="#f8f8f8"/>
<rect x="602" y="1" width="25" height="1" fill="#a0a0a0"/>
<rect x="602" y="1" width="1" height="22" fill="#a0a0a0"/>
<rect x="626" y="2" width="1" height="21" fill="#fff"/>
<rect x="603" y="22" width="24" height="1" fill="#fff"/>
<path d="M610.2 6 V17.2 L612.9 14.6 L615.2 19.8 L617 19 L614.8 14 H618.2 Z" fill="#4a4a4a" shape-rendering="geometricPrecision"/>
<rect x="642" y="6" width="1" height="6" fill="#505050"/>
<rect x="642" y="15" width="1" height="6" fill="#505050"/>
<rect x="635" y="13" width="6" height="1" fill="#505050"/>
<rect x="644" y="13" width="6" height="1" fill="#505050"/>
<rect x="642" y="13" width="1" height="1" fill="#909090"/>
<rect x="659" y="2" width="1" height="21" fill="#a0a0a0"/>
<rect x="676" y="7" width="1" height="13" fill="#505050"/>
<rect x="699" y="13" width="12" height="1" fill="#505050"/>
<path d="M727 20 L739 7.6" stroke="#585858" stroke-width="1" shape-rendering="geometricPrecision"/>
<g shape-rendering="geometricPrecision" stroke="#404040" fill="none"><path d="M752.5 15 L761.5 6.5 M754 19.8 L767.5 10.6 M753.2 17.4 L765 8.4" stroke-width="1.1" stroke-dasharray="1.3 0.7"/><path d="M756.2 19.5 L757.4 10.2 M760.3 17.6 L761.5 8 M764.4 14.4 L765.4 5" stroke-width="1"/></g>
<text x="763.6" y="21.5" font-size="6.5" fill="#303030" text-anchor="start" font-weight="bold" stroke="#303030" stroke-width="0.2">E</text>
<rect x="782" y="6" width="1" height="1" fill="#505050"/>
<rect x="784" y="6" width="1" height="1" fill="#505050"/>
<rect x="786" y="6" width="1" height="1" fill="#505050"/>
<rect x="788" y="6" width="1" height="1" fill="#505050"/>
<rect x="790" y="6" width="1" height="1" fill="#505050"/>
<rect x="792" y="6" width="1" height="1" fill="#505050"/>
<rect x="794" y="6" width="1" height="1" fill="#505050"/>
<rect x="782" y="9" width="1" height="1" fill="#505050"/>
<rect x="784" y="9" width="1" height="1" fill="#505050"/>
<rect x="786" y="9" width="1" height="1" fill="#505050"/>
<rect x="788" y="9" width="1" height="1" fill="#505050"/>
<rect x="790" y="9" width="1" height="1" fill="#505050"/>
<rect x="792" y="9" width="1" height="1" fill="#505050"/>
<rect x="794" y="9" width="1" height="1" fill="#505050"/>
<rect x="782" y="13" width="1" height="1" fill="#505050"/>
<rect x="784" y="13" width="1" height="1" fill="#505050"/>
<rect x="786" y="13" width="1" height="1" fill="#505050"/>
<rect x="788" y="13" width="1" height="1" fill="#505050"/>
<rect x="790" y="13" width="1" height="1" fill="#505050"/>
<rect x="792" y="13" width="1" height="1" fill="#505050"/>
<rect x="794" y="13" width="1" height="1" fill="#505050"/>
<rect x="782" y="17" width="1" height="1" fill="#505050"/>
<rect x="784" y="17" width="1" height="1" fill="#505050"/>
<rect x="786" y="17" width="1" height="1" fill="#505050"/>
<rect x="788" y="17" width="1" height="1" fill="#505050"/>
<rect x="790" y="17" width="1" height="1" fill="#505050"/>
<text x="791.6" y="21.5" font-size="6.5" fill="#303030" text-anchor="start" font-weight="bold" stroke="#303030" stroke-width="0.2">F</text>
<text x="816.6" y="18" font-size="12" fill="#505050" text-anchor="middle" font-weight="normal" stroke="#505050" stroke-width="0.3">A</text>
<rect x="839" y="7" width="1" height="1" fill="#505050"/>
<rect x="839" y="19" width="1" height="1" fill="#505050"/>
<rect x="841" y="7" width="1" height="1" fill="#505050"/>
<rect x="841" y="19" width="1" height="1" fill="#505050"/>
<rect x="843" y="7" width="1" height="1" fill="#505050"/>
<rect x="843" y="19" width="1" height="1" fill="#505050"/>
<rect x="845" y="7" width="1" height="1" fill="#505050"/>
<rect x="845" y="19" width="1" height="1" fill="#505050"/>
<rect x="847" y="7" width="1" height="1" fill="#505050"/>
<rect x="847" y="19" width="1" height="1" fill="#505050"/>
<rect x="849" y="7" width="1" height="1" fill="#505050"/>
<rect x="849" y="19" width="1" height="1" fill="#505050"/>
<rect x="851" y="7" width="1" height="1" fill="#505050"/>
<rect x="851" y="19" width="1" height="1" fill="#505050"/>
<rect x="839" y="7" width="1" height="1" fill="#505050"/>
<rect x="851" y="7" width="1" height="1" fill="#505050"/>
<rect x="839" y="9" width="1" height="1" fill="#505050"/>
<rect x="851" y="9" width="1" height="1" fill="#505050"/>
<rect x="839" y="11" width="1" height="1" fill="#505050"/>
<rect x="851" y="11" width="1" height="1" fill="#505050"/>
<rect x="839" y="13" width="1" height="1" fill="#505050"/>
<rect x="851" y="13" width="1" height="1" fill="#505050"/>
<rect x="839" y="15" width="1" height="1" fill="#505050"/>
<rect x="851" y="15" width="1" height="1" fill="#505050"/>
<rect x="839" y="17" width="1" height="1" fill="#505050"/>
<rect x="851" y="17" width="1" height="1" fill="#505050"/>
<rect x="839" y="19" width="1" height="1" fill="#505050"/>
<rect x="851" y="19" width="1" height="1" fill="#505050"/>
<rect x="838" y="6" width="2" height="1" fill="#505050"/>
<text x="845.3" y="18" font-size="11.5" fill="#505050" text-anchor="middle" font-weight="normal" stroke="#505050" stroke-width="0.5">T</text>
<g shape-rendering="geometricPrecision" fill="#505050"><path d="M866 11 L869.5 7 L873 11 L869.5 12.8 Z"/><path d="M873 15.5 L876.5 13.8 L880 15.5 L876.5 19.8 Z"/><path d="M868.2 14.2 L870.2 16.2 L874.2 11.2" fill="none" stroke="#505050" stroke-width="1.2"/></g>
<path d="M886.7 12.2 H892.3 L889.5 15.2 Z" fill="#000" shape-rendering="geometricPrecision"/>
<rect x="898" y="0" width="1" height="25" fill="#a0a0a0"/>
<rect x="899" y="0" width="1" height="25" fill="#fff"/>
<rect x="902" y="3" width="3" height="1" fill="#a8a8a8"/>
<rect x="902" y="5" width="3" height="1" fill="#a8a8a8"/>
<rect x="902" y="7" width="3" height="1" fill="#a8a8a8"/>
<rect x="902" y="9" width="3" height="1" fill="#a8a8a8"/>
<rect x="902" y="11" width="3" height="1" fill="#a8a8a8"/>
<rect x="902" y="13" width="3" height="1" fill="#a8a8a8"/>
<rect x="902" y="15" width="3" height="1" fill="#a8a8a8"/>
<rect x="902" y="17" width="3" height="1" fill="#a8a8a8"/>
<rect x="902" y="19" width="3" height="1" fill="#a8a8a8"/>
<rect x="902" y="21" width="3" height="1" fill="#a8a8a8"/>
<rect x="1076" y="1" width="25" height="22" fill="#f8f8f8"/>
<rect x="1076" y="1" width="25" height="1" fill="#a0a0a0"/>
<rect x="1076" y="1" width="1" height="22" fill="#a0a0a0"/>
<rect x="1100" y="2" width="1" height="21" fill="#fff"/>
<rect x="1077" y="22" width="24" height="1" fill="#fff"/>
<text x="919.7" y="16.8" font-size="10.2" fill="#404040" text-anchor="middle" font-weight="normal" textLength="13.5" lengthAdjust="spacingAndGlyphs" stroke="#404040" stroke-width="0.2">M1</text>
<text x="948.2" y="16.8" font-size="10.2" fill="#404040" text-anchor="middle" font-weight="normal" textLength="13.5" lengthAdjust="spacingAndGlyphs" stroke="#404040" stroke-width="0.2">M5</text>
<text x="976.3" y="16.8" font-size="10.2" fill="#404040" text-anchor="middle" font-weight="normal" textLength="18.9" lengthAdjust="spacingAndGlyphs" stroke="#404040" stroke-width="0.2">M15</text>
<text x="1004.3" y="16.8" font-size="10.2" fill="#404040" text-anchor="middle" font-weight="normal" textLength="18.9" lengthAdjust="spacingAndGlyphs" stroke="#404040" stroke-width="0.2">M30</text>
<text x="1032.3" y="16.8" font-size="10.2" fill="#404040" text-anchor="middle" font-weight="normal" textLength="12.4" lengthAdjust="spacingAndGlyphs" stroke="#404040" stroke-width="0.2">H1</text>
<text x="1059.7" y="16.8" font-size="10.2" fill="#404040" text-anchor="middle" font-weight="normal" textLength="12.4" lengthAdjust="spacingAndGlyphs" stroke="#404040" stroke-width="0.2">H4</text>
<text x="1088.3" y="16.8" font-size="10.2" fill="#404040" text-anchor="middle" font-weight="normal" textLength="12.4" lengthAdjust="spacingAndGlyphs" stroke="#404040" stroke-width="0.2">D1</text>
<text x="1117" y="16.8" font-size="10.2" fill="#404040" text-anchor="middle" font-weight="normal" textLength="14.6" lengthAdjust="spacingAndGlyphs" stroke="#404040" stroke-width="0.2">W1</text>
<text x="1144" y="16.8" font-size="10.2" fill="#404040" text-anchor="middle" font-weight="normal" textLength="15.1" lengthAdjust="spacingAndGlyphs" stroke="#404040" stroke-width="0.2">MN</text>
<rect x="1159" y="0" width="1" height="25" fill="#a0a0a0"/>
<rect x="1160" y="0" width="1" height="25" fill="#fff"/>
<g shape-rendering="geometricPrecision">
<path d="M1626.6 13.4 L1622 18" stroke="#2858c8" stroke-width="2.4" stroke-linecap="round"/>
<circle cx="1629.6" cy="10.4" r="4" fill="#f4f4f4" stroke="#2d60d8" stroke-width="1.4"/>
<path d="M1662 5.5 C1666 5.5 1669 7.8 1669 10.4 C1669 12.4 1667.6 13.8 1665.6 14.5 L1666 16.8 L1663.6 14.8 C1658.5 15.2 1655.6 13 1655.6 10.4 C1655.6 7.8 1658 5.5 1662 5.5 Z" fill="#e6e6ec" stroke="#909090" stroke-width="1"/>
<path d="M1653.5 10.5 C1656.5 10.5 1658.8 12.2 1658.8 14.2 C1658.8 16.4 1656.4 17.8 1653.2 17.6 L1651 19.6 L1651.4 17.4 C1649.4 16.8 1648.3 15.6 1648.3 14.2 C1648.3 12.2 1650.5 10.5 1653.5 10.5 Z" fill="#ececf0" stroke="#909090" stroke-width="1"/>
</g>
</svg>
</body></html>
